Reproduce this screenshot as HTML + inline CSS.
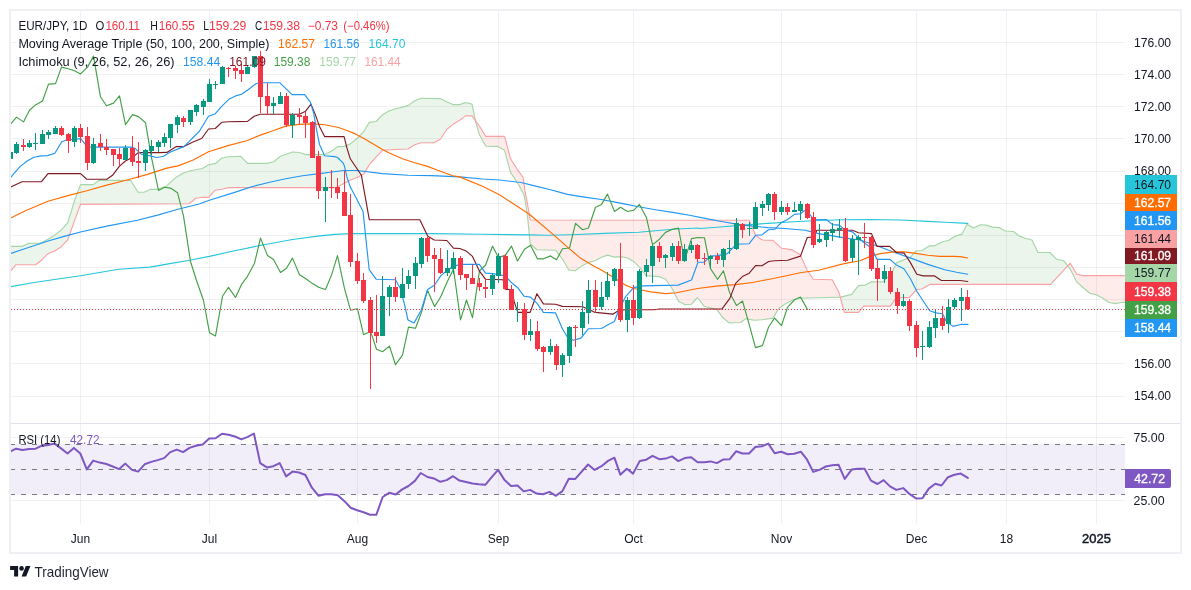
<!DOCTYPE html>
<html><head><meta charset="utf-8"><title>EUR/JPY</title>
<style>html,body{margin:0;padding:0;background:#fff;width:1191px;height:590px;overflow:hidden}</style></head>
<body>
<svg width="1191" height="590" viewBox="0 0 1191 590" style="position:absolute;left:0;top:0;will-change:transform;font-family:'Liberation Sans',sans-serif">
<rect width="1191" height="590" fill="#fff"/>
<rect x="10" y="10" width="1171" height="543" fill="none" stroke="#eff0f4" stroke-width="2"/>
<defs><clipPath id="cp"><rect x="11" y="11" width="1114" height="412"/></clipPath><clipPath id="cr"><rect x="11" y="424" width="1114" height="100"/></clipPath></defs>
<path d="M80.5 11V523.5 M209.5 11V523.5 M357.5 11V523.5 M498.5 11V523.5 M633.5 11V523.5 M781.5 11V523.5 M916.5 11V523.5 M1006.5 11V523.5 M1096.5 11V523.5" stroke="rgba(42,46,57,0.065)" stroke-width="1" fill="none" shape-rendering="crispEdges"/>
<path d="M11 396.5H1125 M11 363.5H1125 M11 331.5H1125 M11 299.5H1125 M11 267.5H1125 M11 235.5H1125 M11 203.5H1125 M11 171.5H1125 M11 138.5H1125 M11 106.5H1125 M11 74.5H1125 M11 42.5H1125 M11 437.5H1125 M11 500.5H1125" stroke="rgba(42,46,57,0.065)" stroke-width="1" fill="none" shape-rendering="crispEdges"/>
<path d="M11 423.5H1180" stroke="#e0e3eb" stroke-width="1" shape-rendering="crispEdges"/>
<g clip-path="url(#cp)">
<path d="M10.5 246.4 L11 246.4 L11.5 246.4 L12 246.4 L12.5 246.4 L13 246.4 L13.5 246.4 L14 246.4 L14.5 246.4 L15 246.4 L15.5 246.4 L16 246.4 L16.5 246.4 L17 246.4 L17.5 246.4 L18 246.4 L18.5 246.4 L19 246.4 L19.5 246.4 L20 246.4 L20.5 246.4 L21 246.4 L21.5 246.4 L22 246.4 L22.5 246.2 L23 246 L23.5 245.8 L24 245.6 L24.5 245.3 L25 245.1 L25.5 244.9 L26 244.7 L26.5 244.4 L27 244.2 L27.5 244 L28 243.8 L28.5 243.5 L29 243.4 L29.5 243.4 L30 243.4 L30.5 243.3 L31 243.3 L31.5 243.3 L32 243.3 L32.5 243.3 L33 243.3 L33.5 243.3 L34 243.2 L34.5 243.2 L35 243.2 L35.5 243.2 L36 243.2 L36.5 243.2 L37 243.2 L37.5 243.1 L38 243.1 L38.5 243.1 L39 243.1 L39.5 243.1 L40 243.1 L40.5 243.1 L41 242.9 L41.5 242.6 L42 242.4 L42.5 242.1 L43 241.9 L43.5 241.6 L44 241.4 L44.5 241.1 L45 240.8 L45.5 240.6 L46 240.3 L46.5 240.1 L47 239.8 L47.5 239.6 L48 239.3 L48.5 239 L49 238.7 L49.5 238.4 L50 238.1 L50.5 237.7 L51 237.4 L51.5 237.1 L52 236.8 L52.5 236.5 L53 236.2 L53.5 235.9 L54 235.6 L54.5 235.2 L55 234.9 L55.5 234.5 L56 234.1 L56.5 233.7 L57 233.4 L57.5 233 L58 232.6 L58.5 232.2 L59 231.9 L59.5 231.5 L60 231.1 L60.5 230.7 L61 230.4 L61.5 229.8 L62 229.2 L62.5 228.7 L63 228.1 L63.5 227.5 L64 227 L64.5 226.4 L65 225.9 L65.5 225.3 L66 224.7 L66.5 224.2 L67 223.6 L67.5 223 L68 222 L68.5 220.4 L69 218.7 L69.5 217.1 L70 215.4 L70.5 213.8 L71 212.1 L71.5 210.5 L72 208.9 L72.5 207.2 L73 205.6 L73.5 203.9 L74 202.3 L74.5 200.9 L75 199.5 L75.5 198.2 L76 196.8 L76.5 195.4 L77 194.1 L77.5 192.7 L78 191.4 L78.5 190 L79 188.7 L79.5 187.3 L80 186 L80.5 184.6 L81 184.6 L81.5 184.6 L82 184.6 L82.5 184.6 L83 184.6 L83.5 184.6 L84 184.6 L84.5 184.6 L85 184.6 L85.5 184.6 L86 184.6 L86.5 184.6 L87 184.6 L87.5 184.6 L88 184.6 L88.5 184.6 L89 184.6 L89.5 184.6 L90 184.6 L90.5 184.6 L91 184.6 L91.5 184.6 L92 184.6 L92.5 184.6 L93 184.6 L93.5 184.4 L94 184 L94.5 183.7 L95 183.3 L95.5 182.9 L96 182.6 L96.5 182.2 L97 181.9 L97.5 181.5 L98 181.2 L98.5 180.8 L99 180.4 L99.5 180.3 L100 180.3 L100.5 180.3 L101 180.3 L101.5 180.3 L102 180.3 L102.5 180.3 L103 180.3 L103.5 180.3 L104 180.3 L104.5 180.3 L105 180.3 L105.5 180.3 L106 180.3 L106.5 180.3 L107 180.3 L107.5 180.3 L108 180.3 L108.5 180.3 L109 180.3 L109.5 180.3 L110 180.3 L110.5 180.3 L111 180.3 L111.5 180.3 L112 180.3 L112.5 180.3 L113 180.3 L113.5 180.3 L114 180.3 L114.5 180.3 L115 180.3 L115.5 180.3 L116 180.3 L116.5 180.3 L117 180.3 L117.5 180.3 L118 180.3 L118.5 180.3 L119 180.3 L119.5 180.3 L120 180.3 L120.5 180.3 L121 180.3 L121.5 180.3 L122 180.3 L122.5 180.3 L123 180.3 L123.5 180.3 L124 180.3 L124.5 180.3 L125 180.3 L125.5 180.3 L126 180.3 L126.5 180.3 L127 180.3 L127.5 180.3 L128 180.3 L128.5 180.3 L129 180.3 L129.5 180.3 L130 180.3 L130.5 180.3 L131 181.1 L131.5 181.9 L132 182.7 L132.5 183.4 L133 184.2 L133.5 185 L134 185.8 L134.5 186.5 L135 187.3 L135.5 188.1 L136 188.9 L136.5 189.7 L137 190.4 L137.5 191.2 L138 192 L138.5 192.2 L139 192.2 L139.5 192.2 L140 192.2 L140.5 192.2 L141 192.2 L141.5 192.2 L142 192.2 L142.5 192.2 L143 192.2 L143.5 192.2 L144 192.2 L144.5 192 L145 191.8 L145.5 191.6 L146 191.4 L146.5 191.2 L147 191 L147.5 190.7 L148 190.5 L148.5 190.3 L149 190.1 L149.5 189.9 L150 189.7 L150.5 189.5 L151 189.3 L151.5 189.3 L152 189.3 L152.5 189.3 L153 189.3 L153.5 189.3 L154 189.3 L154.5 189.3 L155 189.3 L155.5 189.3 L156 189.3 L156.5 189.3 L157 189.3 L157.5 189.3 L158 189.2 L158.5 189 L159 188.8 L159.5 188.6 L160 188.5 L160.5 188.3 L161 188.1 L161.5 187.9 L162 187.7 L162.5 187.6 L163 187.4 L163.5 187.2 L164 187 L164.5 186.8 L165 186.7 L165.5 186.5 L166 186.3 L166.5 185.9 L167 185.5 L167.5 185 L168 184.5 L168.5 184.1 L169 183.6 L169.5 183.2 L170 182.7 L170.5 182.3 L171 181.8 L171.5 181.4 L172 180.9 L172.5 180.5 L173 180 L173.5 179.5 L174 179.1 L174.5 178.6 L175 178.2 L175.5 177.8 L176 177.5 L176.5 177.2 L177 176.9 L177.5 176.6 L178 176.3 L178.5 176 L179 175.7 L179.5 175.4 L180 175.1 L180.5 174.8 L181 174.5 L181.5 174.2 L182 173.9 L182.5 173.6 L183 173.3 L183.5 173 L184 172.7 L184.5 172.5 L185 172.4 L185.5 172.2 L186 172.1 L186.5 171.9 L187 171.8 L187.5 171.6 L188 171.5 L188.5 171.3 L189 171.2 L189.5 171 L190 170.9 L190.5 170.7 L191 170.6 L191.5 170.4 L192 170.3 L192.5 170.1 L193 170.1 L193.5 170 L194 169.9 L194.5 169.8 L195 169.7 L195.5 169.6 L196 169.6 L196.5 169.5 L197 169.4 L197.5 169.3 L198 169.2 L198.5 169.1 L199 169.1 L199.5 169 L200 168.9 L200.5 168.8 L201 168.7 L201.5 168.6 L202 168.6 L202.5 168.5 L203 168.2 L203.5 167.9 L204 167.6 L204.5 167.2 L205 166.9 L205.5 166.6 L206 166.3 L206.5 166 L207 165.7 L207.5 165.4 L208 165 L208.5 164.7 L209 164.7 L209.5 164.6 L210 164.5 L210.5 164.4 L211 164.3 L211.5 164.2 L212 164.1 L212.5 164 L213 164 L213.5 163.9 L214 163.8 L214.5 163.7 L215 163.6 L215.5 163.4 L216 162.9 L216.5 162.5 L217 162.1 L217.5 161.7 L218 161.3 L218.5 160.9 L219 160.5 L219.5 160.1 L220 159.6 L220.5 159.2 L221 158.8 L221.5 158.4 L222 158 L222.5 157.9 L223 157.8 L223.5 157.7 L224 157.6 L224.5 157.5 L225 157.4 L225.5 157.3 L226 157.2 L226.5 157.1 L227 157 L227.5 156.9 L228 156.8 L228.5 156.8 L229 156.7 L229.5 156.7 L230 156.7 L230.5 156.7 L231 156.7 L231.5 156.6 L232 156.6 L232.5 156.6 L233 156.6 L233.5 156.6 L234 156.5 L234.5 156.5 L235 156.5 L235.5 156.5 L236 156.5 L236.5 156.4 L237 156.4 L237.5 156.4 L238 156.4 L238.5 156.4 L239 156.3 L239.5 156.3 L240 156.3 L240.5 156.3 L241 156.6 L241.5 157.1 L242 157.7 L242.5 158.2 L243 158.7 L243.5 159.2 L244 159.8 L244.5 160.3 L245 160.8 L245.5 161.3 L246 161.9 L246.5 162.4 L247 162.9 L247.5 163.4 L248 163.4 L248.5 163.4 L249 163.4 L249.5 163.4 L250 163.4 L250.5 163.4 L251 163.4 L251.5 163.4 L252 163.4 L252.5 163.4 L253 163.4 L253.5 163.4 L254 163.4 L254.5 163.4 L255 163.4 L255.5 163.4 L256 163.4 L256.5 163.4 L257 163.4 L257.5 163.4 L258 163.4 L258.5 163.4 L259 163.4 L259.5 163.4 L260 163.4 L260.5 163.4 L261 163.4 L261.5 163.4 L262 163.4 L262.5 163.4 L263 163.4 L263.5 163.4 L264 163.4 L264.5 163.4 L265 163.4 L265.5 163.4 L266 163.4 L266.5 163.4 L267 163.4 L267.5 163.3 L268 163.1 L268.5 163 L269 162.9 L269.5 162.8 L270 162.6 L270.5 162.5 L271 162.4 L271.5 162.3 L272 162.1 L272.5 162 L273 161.9 L273.5 161.8 L274 161.5 L274.5 161.1 L275 160.7 L275.5 160.3 L276 159.9 L276.5 159.5 L277 159.1 L277.5 158.7 L278 158.3 L278.5 157.9 L279 157.5 L279.5 157.1 L280 156.7 L280.5 156.3 L281 156.1 L281.5 155.9 L282 155.7 L282.5 155.6 L283 155.4 L283.5 155.2 L284 155 L284.5 154.8 L285 154.7 L285.5 154.5 L286 154.3 L286.5 154.1 L287 154 L287.5 153.8 L288 153.6 L288.5 153.4 L289 153.2 L289.5 153.1 L290 152.9 L290.5 152.7 L291 152.5 L291.5 152.3 L292 152.2 L292.5 152 L293 152.1 L293.5 152.1 L294 152.2 L294.5 152.2 L295 152.2 L295.5 152.3 L296 152.3 L296.5 152.3 L297 152.4 L297.5 152.4 L298 152.5 L298.5 152.5 L299 152.5 L299.5 152.6 L300 152.8 L300.5 152.9 L301 153.1 L301.5 153.2 L302 153.4 L302.5 153.5 L303 153.7 L303.5 153.8 L304 154 L304.5 154.1 L305 154.3 L305.5 154.4 L306 154.6 L306.5 154.6 L307 154.6 L307.5 154.6 L308 154.6 L308.5 154.6 L309 154.6 L309.5 154.6 L310 154.6 L310.5 154.6 L311 154.6 L311.5 154.6 L312 154.6 L312.5 154.6 L313 154.6 L313.5 154.6 L314 154.6 L314.5 154.6 L315 154.6 L315.5 154.6 L316 154.6 L316.5 154.6 L317 154.6 L317.5 154.6 L318 154.6 L318.5 154.6 L319 154.6 L319.5 154.6 L320 154.6 L320.5 154.6 L321 154.6 L321.5 154.6 L322 154.6 L322.5 154.6 L323 154.6 L323.5 154.6 L324 154.6 L324.5 154.6 L325 154.4 L325.5 154.1 L326 153.9 L326.5 153.6 L327 153.4 L327.5 153.1 L328 152.9 L328.5 152.6 L329 152.4 L329.5 152.1 L330 151.9 L330.5 151.6 L331 151.4 L331.5 151.1 L332 150.7 L332.5 150.4 L333 150 L333.5 149.6 L334 149.3 L334.5 148.9 L335 148.5 L335.5 148.2 L336 147.8 L336.5 147.4 L337 147.1 L337.5 146.7 L338 146.6 L338.5 146.6 L339 146.6 L339.5 146.6 L340 146.5 L340.5 146.5 L341 146.5 L341.5 146.5 L342 146.5 L342.5 146.5 L343 146.5 L343.5 146.5 L344 146.4 L344.5 146.3 L345 146.1 L345.5 145.9 L346 145.7 L346.5 145.5 L347 145.3 L347.5 145.1 L348 144.9 L348.5 144.7 L349 144.5 L349.5 144.3 L350 144.1 L350.5 143.7 L351 143.3 L351.5 142.9 L352 142.5 L352.5 142.1 L353 141.7 L353.5 141.3 L354 140.9 L354.5 140.5 L355 140.1 L355.5 139.7 L356 139.4 L356.5 139 L357 138.6 L357.5 138.1 L358 137.5 L358.5 137 L359 136.5 L359.5 136 L360 135.4 L360.5 134.9 L361 134.4 L361.5 133.9 L362 133.3 L362.5 132.8 L363 132.3 L363.5 131.8 L364 131 L364.5 130.2 L365 129.4 L365.5 128.6 L366 127.7 L366.5 126.9 L367 126.1 L367.5 125.3 L368 124.5 L368.5 123.7 L369 122.9 L369.5 122.4 L370 122.3 L370.5 122.2 L371 122.2 L371.5 122.1 L372 122 L372.5 122 L373 121.9 L373.5 121.9 L374 121.8 L374.5 121.7 L375 121.7 L375.5 121.6 L376 121.5 L376.5 121.1 L377 120.6 L377.5 120.1 L378 119.5 L378.5 119 L379 118.5 L379.5 117.9 L380 117.4 L380.5 116.9 L381 116.4 L381.5 115.8 L382 115.3 L382.5 114.8 L383 114.5 L383.5 114.2 L384 113.9 L384.5 113.6 L385 113.3 L385.5 113 L386 112.8 L386.5 112.5 L387 112.2 L387.5 111.9 L388 111.6 L388.5 111.3 L389 111 L389.5 110.8 L390 110.6 L390.5 110.5 L391 110.3 L391.5 110.2 L392 110 L392.5 109.8 L393 109.7 L393.5 109.5 L394 109.4 L394.5 109.2 L395 109.1 L395.5 108.9 L396 108.8 L396.5 108.6 L397 108.5 L397.5 108.4 L398 108.3 L398.5 108.1 L399 108 L399.5 107.9 L400 107.8 L400.5 107.6 L401 107.5 L401.5 107.4 L402 107.3 L402.5 107.1 L403 107 L403.5 106.8 L404 106.7 L404.5 106.6 L405 106.4 L405.5 106.3 L406 106.1 L406.5 106 L407 105.8 L407.5 105.7 L408 105.6 L408.5 105.4 L409 105 L409.5 104.7 L410 104.3 L410.5 103.9 L411 103.6 L411.5 103.2 L412 102.9 L412.5 102.5 L413 102.1 L413.5 101.8 L414 101.4 L414.5 101 L415 100.7 L415.5 100.5 L416 100.4 L416.5 100.2 L417 100 L417.5 99.8 L418 99.6 L418.5 99.4 L419 99.2 L419.5 99 L420 98.8 L420.5 98.6 L421 98.4 L421.5 98.3 L422 98.3 L422.5 98.3 L423 98.3 L423.5 98.3 L424 98.4 L424.5 98.4 L425 98.4 L425.5 98.4 L426 98.4 L426.5 98.4 L427 98.4 L427.5 98.4 L428 98.4 L428.5 98.4 L429 98.4 L429.5 98.5 L430 98.5 L430.5 98.5 L431 98.5 L431.5 98.5 L432 98.5 L432.5 98.5 L433 98.5 L433.5 98.5 L434 98.5 L434.5 98.5 L435 98.6 L435.5 98.6 L436 98.6 L436.5 98.6 L437 98.6 L437.5 98.6 L438 98.6 L438.5 98.6 L439 98.6 L439.5 98.6 L440 98.6 L440.5 98.8 L441 99 L441.5 99.3 L442 99.5 L442.5 99.7 L443 100 L443.5 100.2 L444 100.5 L444.5 100.7 L445 100.9 L445.5 101.2 L446 101.4 L446.5 101.6 L447 101.9 L447.5 102.1 L448 102.3 L448.5 102.6 L449 102.8 L449.5 103 L450 103.3 L450.5 103.5 L451 103.7 L451.5 103.9 L452 104.2 L452.5 104.4 L453 104.6 L453.5 104.6 L454 104.6 L454.5 104.6 L455 104.6 L455.5 104.6 L456 104.6 L456.5 104.6 L457 104.6 L457.5 104.6 L458 104.6 L458.5 104.6 L459 104.6 L459.5 104.6 L460 104.5 L460.5 104.3 L461 104.1 L461.5 103.9 L462 103.8 L462.5 103.6 L463 103.4 L463.5 103.3 L464 103.1 L464.5 102.9 L465 102.7 L465.5 102.6 L466 102.6 L466.5 102.8 L467 102.9 L467.5 103 L468 103.1 L468.5 103.2 L469 103.3 L469.5 103.5 L470 103.6 L470.5 103.7 L471 103.8 L471.5 103.9 L472 104.1 L472.5 106.4 L473 108.8 L473.5 111.3 L474 113.7 L474.5 116.2 L475 118.6 L475.5 121.1 L476 123.2 L476 121.4 L475.5 120.7 L475 120 L474.5 119.3 L474 118.6 L473.5 118 L473 117.3 L472.5 116.6 L472 115.9 L471.5 115.9 L471 115.9 L470.5 115.9 L470 115.9 L469.5 115.9 L469 115.9 L468.5 115.9 L468 115.9 L467.5 115.9 L467 115.9 L466.5 115.9 L466 115.9 L465.5 116 L465 116.4 L464.5 116.7 L464 117.1 L463.5 117.4 L463 117.8 L462.5 118.1 L462 118.5 L461.5 118.9 L461 119.2 L460.5 119.6 L460 119.9 L459.5 120.3 L459 120.6 L458.5 120.9 L458 121.2 L457.5 121.5 L457 121.8 L456.5 122.1 L456 122.4 L455.5 122.8 L455 123.1 L454.5 123.4 L454 123.7 L453.5 124 L453 124.4 L452.5 124.8 L452 125.2 L451.5 125.6 L451 126 L450.5 126.3 L450 126.7 L449.5 127.1 L449 127.5 L448.5 127.9 L448 128.3 L447.5 128.7 L447 129.1 L446.5 129.8 L446 130.6 L445.5 131.4 L445 132.1 L444.5 132.9 L444 133.7 L443.5 134.4 L443 135.2 L442.5 135.9 L442 136.7 L441.5 137.5 L441 138.2 L440.5 139 L440 139.3 L439.5 139.6 L439 139.9 L438.5 140.2 L438 140.5 L437.5 140.8 L437 141.1 L436.5 141.4 L436 141.7 L435.5 142 L435 142.3 L434.5 142.6 L434 142.7 L433.5 142.7 L433 142.7 L432.5 142.7 L432 142.7 L431.5 142.7 L431 142.7 L430.5 142.7 L430 142.7 L429.5 142.7 L429 142.7 L428.5 142.7 L428 142.7 L427.5 142.7 L427 142.7 L426.5 142.7 L426 142.7 L425.5 142.7 L425 142.7 L424.5 142.7 L424 142.7 L423.5 142.7 L423 142.7 L422.5 142.7 L422 142.7 L421.5 142.7 L421 142.8 L420.5 142.9 L420 143.1 L419.5 143.2 L419 143.4 L418.5 143.6 L418 143.7 L417.5 143.9 L417 144 L416.5 144.2 L416 144.3 L415.5 144.5 L415 144.7 L414.5 144.9 L414 145.2 L413.5 145.5 L413 145.8 L412.5 146.1 L412 146.5 L411.5 146.8 L411 147.1 L410.5 147.4 L410 147.7 L409.5 148 L409 148.3 L408.5 148.6 L408 149 L407.5 149 L407 149 L406.5 149 L406 149.1 L405.5 149.1 L405 149.1 L404.5 149.1 L404 149.1 L403.5 149.2 L403 149.2 L402.5 149.2 L402 149.2 L401.5 149.3 L401 149.3 L400.5 149.3 L400 149.3 L399.5 149.3 L399 149.4 L398.5 149.4 L398 149.4 L397.5 149.4 L397 149.4 L396.5 149.5 L396 149.5 L395.5 149.5 L395 149.5 L394.5 149.6 L394 149.6 L393.5 149.6 L393 149.7 L392.5 149.7 L392 149.7 L391.5 149.8 L391 149.8 L390.5 149.8 L390 149.9 L389.5 149.9 L389 149.9 L388.5 150 L388 150 L387.5 150 L387 150.1 L386.5 150.1 L386 150.1 L385.5 150.1 L385 150.2 L384.5 150.2 L384 150.2 L383.5 150.3 L383 150.3 L382.5 150.4 L382 150.9 L381.5 151.4 L381 152 L380.5 152.5 L380 153 L379.5 153.5 L379 154.1 L378.5 154.6 L378 155.1 L377.5 155.6 L377 156.2 L376.5 156.7 L376 157.2 L375.5 157.8 L375 158.4 L374.5 158.9 L374 159.5 L373.5 160 L373 160.6 L372.5 161.2 L372 161.7 L371.5 162.3 L371 162.9 L370.5 163.4 L370 164 L369.5 164.5 L369 165.3 L368.5 166.1 L368 166.9 L367.5 167.7 L367 168.5 L366.5 169.3 L366 170.1 L365.5 170.9 L365 171.7 L364.5 172.5 L364 173.4 L363.5 174.1 L363 174.4 L362.5 174.6 L362 174.9 L361.5 175.2 L361 175.4 L360.5 175.7 L360 175.9 L359.5 176.2 L359 176.5 L358.5 176.7 L358 177 L357.5 177.3 L357 177.5 L356.5 177.7 L356 177.9 L355.5 178.1 L355 178.3 L354.5 178.4 L354 178.6 L353.5 178.8 L353 179 L352.5 179.2 L352 179.4 L351.5 179.6 L351 179.8 L350.5 179.9 L350 180.2 L349.5 180.5 L349 180.7 L348.5 181 L348 181.3 L347.5 181.6 L347 181.8 L346.5 182.1 L346 182.4 L345.5 182.7 L345 182.9 L344.5 183.2 L344 183.5 L343.5 183.8 L343 184 L342.5 184.3 L342 184.6 L341.5 184.9 L341 185.1 L340.5 185.4 L340 185.7 L339.5 185.9 L339 186.2 L338.5 186.5 L338 186.8 L337.5 187 L337 187.3 L336.5 187.6 L336 187.6 L335.5 187.6 L335 187.6 L334.5 187.6 L334 187.6 L333.5 187.6 L333 187.6 L332.5 187.6 L332 187.6 L331.5 187.6 L331 187.6 L330.5 187.6 L330 187.6 L329.5 187.6 L329 187.6 L328.5 187.6 L328 187.6 L327.5 187.6 L327 187.6 L326.5 187.6 L326 187.6 L325.5 187.6 L325 187.6 L324.5 187.6 L324 187.6 L323.5 187.6 L323 187.6 L322.5 187.6 L322 187.6 L321.5 187.6 L321 187.6 L320.5 187.6 L320 187.6 L319.5 187.6 L319 187.6 L318.5 187.6 L318 187.6 L317.5 187.6 L317 187.6 L316.5 187.6 L316 187.6 L315.5 187.6 L315 187.6 L314.5 187.6 L314 187.6 L313.5 187.6 L313 187.6 L312.5 187.6 L312 187.6 L311.5 187.6 L311 187.6 L310.5 187.6 L310 187.6 L309.5 187.6 L309 187.6 L308.5 187.6 L308 187.6 L307.5 187.6 L307 187.6 L306.5 187.6 L306 187.6 L305.5 187.6 L305 187.6 L304.5 187.6 L304 187.6 L303.5 187.6 L303 187.6 L302.5 187.6 L302 187.6 L301.5 187.6 L301 187.6 L300.5 187.6 L300 187.6 L299.5 187.6 L299 187.6 L298.5 187.6 L298 187.6 L297.5 187.6 L297 187.6 L296.5 187.6 L296 187.6 L295.5 187.6 L295 187.6 L294.5 187.6 L294 187.6 L293.5 187.6 L293 187.6 L292.5 187.6 L292 187.6 L291.5 187.6 L291 187.6 L290.5 187.6 L290 187.6 L289.5 187.6 L289 187.6 L288.5 187.6 L288 187.6 L287.5 187.6 L287 187.6 L286.5 187.6 L286 187.6 L285.5 187.6 L285 187.6 L284.5 187.6 L284 187.6 L283.5 187.6 L283 187.6 L282.5 187.6 L282 187.6 L281.5 187.6 L281 187.6 L280.5 187.6 L280 187.6 L279.5 187.6 L279 187.6 L278.5 187.6 L278 187.6 L277.5 187.6 L277 187.6 L276.5 187.6 L276 187.6 L275.5 187.6 L275 187.6 L274.5 187.6 L274 187.6 L273.5 187.6 L273 187.6 L272.5 187.6 L272 187.6 L271.5 187.6 L271 187.6 L270.5 187.6 L270 187.6 L269.5 187.6 L269 187.6 L268.5 187.6 L268 187.6 L267.5 187.6 L267 187.6 L266.5 187.6 L266 187.6 L265.5 187.6 L265 187.6 L264.5 187.6 L264 187.6 L263.5 187.6 L263 187.6 L262.5 187.6 L262 187.6 L261.5 187.6 L261 187.6 L260.5 187.6 L260 187.6 L259.5 187.6 L259 187.6 L258.5 187.6 L258 187.6 L257.5 187.6 L257 187.6 L256.5 187.6 L256 187.6 L255.5 187.6 L255 187.6 L254.5 187.6 L254 187.6 L253.5 187.6 L253 187.6 L252.5 187.6 L252 187.6 L251.5 187.6 L251 187.6 L250.5 187.6 L250 187.6 L249.5 187.6 L249 187.6 L248.5 187.6 L248 187.6 L247.5 187.6 L247 187.6 L246.5 187.6 L246 187.6 L245.5 187.6 L245 187.6 L244.5 187.6 L244 187.6 L243.5 187.6 L243 187.6 L242.5 187.6 L242 187.6 L241.5 187.6 L241 187.6 L240.5 187.6 L240 187.6 L239.5 187.6 L239 187.6 L238.5 187.6 L238 187.6 L237.5 187.6 L237 187.6 L236.5 187.6 L236 187.6 L235.5 187.6 L235 187.6 L234.5 187.6 L234 187.6 L233.5 187.6 L233 187.6 L232.5 187.6 L232 187.6 L231.5 187.6 L231 187.6 L230.5 187.6 L230 187.6 L229.5 187.6 L229 187.6 L228.5 187.6 L228 187.7 L227.5 187.8 L227 188 L226.5 188.1 L226 188.3 L225.5 188.4 L225 188.5 L224.5 188.7 L224 188.8 L223.5 188.9 L223 189.1 L222.5 189.2 L222 189.3 L221.5 189.4 L221 189.5 L220.5 189.5 L220 189.6 L219.5 189.6 L219 189.7 L218.5 189.8 L218 189.8 L217.5 189.9 L217 190 L216.5 190 L216 190.1 L215.5 190.1 L215 190.4 L214.5 191 L214 191.5 L213.5 192 L213 192.5 L212.5 193.1 L212 193.6 L211.5 194.1 L211 194.6 L210.5 195.2 L210 195.7 L209.5 196.2 L209 196.7 L208.5 197.3 L208 197.3 L207.5 197.3 L207 197.3 L206.5 197.3 L206 197.3 L205.5 197.3 L205 197.3 L204.5 197.3 L204 197.3 L203.5 197.3 L203 197.3 L202.5 197.3 L202 197.4 L201.5 197.4 L201 197.5 L200.5 197.6 L200 197.7 L199.5 197.7 L199 197.8 L198.5 197.9 L198 198 L197.5 198 L197 198.1 L196.5 198.2 L196 198.3 L195.5 198.5 L195 198.9 L194.5 199.3 L194 199.7 L193.5 200.1 L193 200.5 L192.5 200.9 L192 201.3 L191.5 201.7 L191 202.1 L190.5 202.5 L190 202.9 L189.5 203.3 L189 203.7 L188.5 203.7 L188 203.7 L187.5 203.7 L187 203.7 L186.5 203.7 L186 203.7 L185.5 203.8 L185 203.8 L184.5 203.8 L184 203.8 L183.5 203.8 L183 203.8 L182.5 203.8 L182 203.8 L181.5 203.8 L181 203.8 L180.5 203.8 L180 203.8 L179.5 203.8 L179 203.8 L178.5 203.8 L178 203.8 L177.5 203.8 L177 203.8 L176.5 203.8 L176 203.8 L175.5 203.8 L175 203.8 L174.5 203.8 L174 203.8 L173.5 203.8 L173 203.8 L172.5 203.8 L172 203.8 L171.5 203.8 L171 203.8 L170.5 203.8 L170 203.8 L169.5 203.9 L169 203.9 L168.5 203.9 L168 203.9 L167.5 203.9 L167 203.9 L166.5 203.9 L166 203.9 L165.5 203.9 L165 203.9 L164.5 203.9 L164 203.9 L163.5 203.9 L163 203.9 L162.5 203.9 L162 203.9 L161.5 203.9 L161 203.9 L160.5 203.9 L160 203.9 L159.5 203.9 L159 203.9 L158.5 203.9 L158 203.9 L157.5 203.9 L157 203.9 L156.5 203.9 L156 203.9 L155.5 203.9 L155 203.9 L154.5 203.9 L154 203.9 L153.5 204 L153 204 L152.5 204 L152 204 L151.5 204 L151 204 L150.5 204 L150 204 L149.5 204 L149 204 L148.5 204 L148 204 L147.5 204 L147 204 L146.5 204 L146 204 L145.5 204 L145 204 L144.5 204 L144 204 L143.5 204 L143 204 L142.5 204 L142 204 L141.5 204 L141 204 L140.5 204 L140 204 L139.5 204 L139 204 L138.5 204 L138 204 L137.5 204.1 L137 204.1 L136.5 204.1 L136 204.1 L135.5 204.1 L135 204.1 L134.5 204.1 L134 204.1 L133.5 204.1 L133 204.1 L132.5 204.1 L132 204.1 L131.5 204.1 L131 204.1 L130.5 204.1 L130 204.1 L129.5 204.1 L129 204.1 L128.5 204.1 L128 204.1 L127.5 204.1 L127 204.1 L126.5 204.1 L126 204.1 L125.5 204.1 L125 204.1 L124.5 204.1 L124 204.1 L123.5 204.1 L123 204.1 L122.5 204.1 L122 204.1 L121.5 204.2 L121 204.2 L120.5 204.2 L120 204.2 L119.5 204.2 L119 204.2 L118.5 204.2 L118 204.2 L117.5 204.2 L117 204.2 L116.5 204.2 L116 204.2 L115.5 204.2 L115 204.2 L114.5 204.2 L114 204.2 L113.5 204.2 L113 204.2 L112.5 204.2 L112 204.2 L111.5 204.2 L111 204.2 L110.5 204.2 L110 204.2 L109.5 204.2 L109 204.2 L108.5 204.2 L108 204.2 L107.5 204.2 L107 204.2 L106.5 204.2 L106 204.2 L105.5 204.3 L105 204.3 L104.5 204.3 L104 204.3 L103.5 204.3 L103 204.3 L102.5 204.3 L102 204.3 L101.5 204.3 L101 204.3 L100.5 204.3 L100 204.3 L99.5 204.3 L99 204.3 L98.5 204.3 L98 204.3 L97.5 204.3 L97 204.3 L96.5 204.3 L96 204.3 L95.5 204.3 L95 204.3 L94.5 204.3 L94 204.3 L93.5 204.3 L93 204.3 L92.5 204.3 L92 204.3 L91.5 204.3 L91 204.3 L90.5 204.3 L90 204.3 L89.5 204.4 L89 204.4 L88.5 204.4 L88 204.4 L87.5 204.4 L87 204.4 L86.5 204.4 L86 204.4 L85.5 204.4 L85 204.4 L84.5 204.4 L84 204.4 L83.5 204.4 L83 204.4 L82.5 204.4 L82 204.4 L81.5 204.4 L81 204.4 L80.5 204.4 L80 205.8 L79.5 207.1 L79 208.5 L78.5 209.9 L78 211.2 L77.5 212.6 L77 213.9 L76.5 215.3 L76 216.6 L75.5 218 L75 219.3 L74.5 220.7 L74 222.1 L73.5 223.5 L73 224.9 L72.5 226.4 L72 227.8 L71.5 229.2 L71 230.7 L70.5 232.1 L70 233.5 L69.5 235 L69 236.4 L68.5 237.8 L68 239.2 L67.5 240.1 L67 240.7 L66.5 241.2 L66 241.7 L65.5 242.2 L65 242.8 L64.5 243.3 L64 243.8 L63.5 244.3 L63 244.9 L62.5 245.4 L62 245.9 L61.5 246.4 L61 247 L60.5 247.3 L60 247.6 L59.5 247.9 L59 248.2 L58.5 248.5 L58 248.8 L57.5 249.1 L57 249.5 L56.5 249.8 L56 250.1 L55.5 250.4 L55 250.7 L54.5 251 L54 251.3 L53.5 251.5 L53 251.7 L52.5 251.9 L52 252.1 L51.5 252.3 L51 252.5 L50.5 252.7 L50 252.9 L49.5 253.1 L49 253.3 L48.5 253.5 L48 253.7 L47.5 254.2 L47 254.7 L46.5 255.2 L46 255.7 L45.5 256.2 L45 256.7 L44.5 257.2 L44 257.7 L43.5 258.2 L43 258.7 L42.5 259.2 L42 259.7 L41.5 260.2 L41 260.6 L40.5 261 L40 261.3 L39.5 261.7 L39 262.1 L38.5 262.5 L38 262.9 L37.5 263.3 L37 263.7 L36.5 264 L36 264.4 L35.5 264.7 L35 264.7 L34.5 264.7 L34 264.7 L33.5 264.7 L33 264.7 L32.5 264.7 L32 264.7 L31.5 264.7 L31 264.7 L30.5 264.7 L30 264.7 L29.5 264.7 L29 264.7 L28.5 264.7 L28 264.7 L27.5 264.7 L27 264.7 L26.5 264.7 L26 264.7 L25.5 264.7 L25 264.7 L24.5 264.7 L24 264.7 L23.5 264.7 L23 264.7 L22.5 264.7 L22 264.7 L21.5 264.7 L21 264.7 L20.5 264.7 L20 264.7 L19.5 264.7 L19 264.7 L18.5 264.7 L18 264.7 L17.5 264.7 L17 264.7 L16.5 264.7 L16 264.9 L15.5 265.4 L15 266 L14.5 266.6 L14 267.2 L13.5 267.7 L13 268.3 L12.5 268.9 L12 269.5 L11.5 270 L11 270.6 L10.5 271.2Z" fill="rgba(67,160,71,0.1)" stroke="none"/>
<path d="M475.5 121.1 L476 123.2 L476.5 125 L477 126.7 L477.5 128.5 L478 130.2 L478.5 132 L479 133.7 L479.5 134.9 L480 135.8 L480.5 136.7 L481 137.6 L481.5 138.6 L482 139.5 L482.5 140.4 L483 141.3 L483.5 142.2 L484 143.2 L484.5 144.1 L485 145 L485.5 145.9 L486 146.1 L486.5 146.1 L487 146.1 L487.5 146.2 L488 146.2 L488.5 146.2 L489 146.2 L489.5 146.2 L490 146.2 L490.5 146.2 L491 146.3 L491.5 146.3 L492 146.3 L492.5 146.3 L493 146.3 L493.5 146.3 L494 146.3 L494.5 146.3 L495 146.4 L495.5 146.4 L496 146.4 L496.5 146.4 L497 146.4 L497.5 146.4 L498 146.6 L498.5 146.8 L499 147.1 L499.5 147.4 L500 147.7 L500.5 148 L501 148.3 L501.5 148.6 L502 148.9 L502.5 149.1 L503 149.4 L503.5 149.7 L504 150 L504.5 150.3 L505 151.9 L505.5 153.8 L506 155.6 L506.5 157.5 L507 159.3 L507.5 161.2 L508 163.1 L508.5 164.9 L509 166.8 L509.5 168.6 L510 170.5 L510.5 172.3 L511 173.1 L511.5 173.8 L512 174.6 L512.5 175.3 L513 176.1 L513.5 176.8 L514 177.5 L514.5 178.3 L515 179 L515.5 179.7 L516 180.5 L516.5 181.2 L517 182 L517.5 182.7 L518 183.6 L518.5 184.5 L519 185.4 L519.5 186.3 L520 187.3 L520.5 188.2 L521 189.1 L521.5 190 L522 190.9 L522.5 191.9 L523 192.8 L523.5 193.7 L524 194.6 L524.5 197.4 L525 200.6 L525.5 203.7 L526 206.8 L526.5 209.9 L527 213.1 L527.5 216.4 L528 221.5 L528.5 226.6 L529 231.7 L529.5 236.9 L530 242 L530.5 244 L531 244.5 L531.5 244.9 L532 245.3 L532.5 245.8 L533 246.2 L533.5 246.6 L534 247.1 L534.5 247.5 L535 248 L535.5 248.4 L536 248.8 L536.5 249.3 L537 249.7 L537.5 249.7 L538 249.7 L538.5 249.7 L539 249.7 L539.5 249.7 L540 249.7 L540.5 249.8 L541 249.8 L541.5 249.8 L542 249.8 L542.5 249.8 L543 249.8 L543.5 249.8 L544 249.9 L544.5 249.9 L545 249.9 L545.5 249.9 L546 249.9 L546.5 249.9 L547 249.9 L547.5 249.9 L548 250 L548.5 250 L549 250 L549.5 250 L550 250 L550.5 250 L551 250 L551.5 250.1 L552 250.1 L552.5 250.1 L553 250.1 L553.5 250.1 L554 250.1 L554.5 250.1 L555 250.2 L555.5 250.2 L556 250.7 L556.5 251.3 L557 252 L557.5 252.6 L558 253.3 L558.5 253.9 L559 254.6 L559.5 255.2 L560 255.9 L560.5 256.5 L561 257.2 L561.5 257.8 L562 258.5 L562.5 259.2 L563 260.1 L563.5 260.9 L564 261.8 L564.5 262.6 L565 263.5 L565.5 264.3 L566 265.2 L566.5 266 L567 266.9 L567.5 267.8 L568 268.6 L568.5 269.5 L569 270 L569.5 270.1 L570 270.2 L570.5 270.2 L571 270.3 L571.5 270.4 L572 270.4 L572.5 270.5 L573 270.6 L573.5 270.6 L574 270.7 L574.5 270.8 L575 270.8 L575.5 270.6 L576 270.2 L576.5 269.8 L577 269.5 L577.5 269.1 L578 268.8 L578.5 268.4 L579 268.1 L579.5 267.7 L580 267.3 L580.5 267 L581 266.6 L581.5 266.3 L582 266 L582.5 265.7 L583 265.5 L583.5 265.2 L584 264.9 L584.5 264.6 L585 264.3 L585.5 264 L586 263.7 L586.5 263.4 L587 263.1 L587.5 262.8 L588 262.6 L588.5 262.3 L589 262.2 L589.5 262.1 L590 261.9 L590.5 261.8 L591 261.7 L591.5 261.6 L592 261.4 L592.5 261.3 L593 261.2 L593.5 261.1 L594 260.9 L594.5 260.8 L595 260.7 L595.5 260.5 L596 260.2 L596.5 259.9 L597 259.6 L597.5 259.4 L598 259.1 L598.5 258.8 L599 258.6 L599.5 258.3 L600 258 L600.5 257.8 L601 257.5 L601.5 257.2 L602 257.1 L602.5 256.9 L603 256.7 L603.5 256.5 L604 256.4 L604.5 256.2 L605 256 L605.5 255.8 L606 255.7 L606.5 255.5 L607 255.3 L607.5 255.1 L608 255.2 L608.5 255.3 L609 255.5 L609.5 255.6 L610 255.8 L610.5 255.9 L611 256.1 L611.5 256.2 L612 256.4 L612.5 256.5 L613 256.7 L613.5 256.8 L614 257 L614.5 257.1 L615 257.1 L615.5 257 L616 257 L616.5 256.9 L617 256.9 L617.5 256.9 L618 256.8 L618.5 256.8 L619 256.7 L619.5 256.7 L620 256.7 L620.5 256.6 L621 256.7 L621.5 256.8 L622 256.9 L622.5 257 L623 257.1 L623.5 257.2 L624 257.3 L624.5 257.4 L625 257.5 L625.5 257.6 L626 257.7 L626.5 257.8 L627 257.9 L627.5 258 L628 258.3 L628.5 258.5 L629 258.8 L629.5 259.1 L630 259.4 L630.5 259.7 L631 259.9 L631.5 260.2 L632 260.5 L632.5 260.8 L633 261 L633.5 261.3 L634 261.8 L634.5 262.3 L635 262.8 L635.5 263.3 L636 263.8 L636.5 264.3 L637 264.8 L637.5 265.3 L638 265.8 L638.5 266.3 L639 266.8 L639.5 267.3 L640 267.8 L640.5 268.5 L641 269.1 L641.5 269.7 L642 270.4 L642.5 271 L643 271.6 L643.5 272.3 L644 272.9 L644.5 273.5 L645 274.2 L645.5 274.8 L646 275.4 L646.5 275.8 L647 275.8 L647.5 275.8 L648 275.9 L648.5 275.9 L649 275.9 L649.5 276 L650 276 L650.5 276 L651 276.1 L651.5 276.1 L652 276.1 L652.5 276.2 L653 276.2 L653.5 276.2 L654 276.3 L654.5 276.3 L655 276.3 L655.5 276.4 L656 276.4 L656.5 276.4 L657 276.5 L657.5 276.5 L658 276.5 L658.5 276.6 L659 276.6 L659.5 276.7 L660 276.9 L660.5 277.1 L661 277.3 L661.5 277.5 L662 277.7 L662.5 277.9 L663 278.1 L663.5 278.3 L664 278.5 L664.5 278.7 L665 278.9 L665.5 279.1 L666 279.7 L666.5 280.5 L667 281.2 L667.5 281.9 L668 282.7 L668.5 283.4 L669 284.1 L669.5 284.9 L670 285.6 L670.5 286.3 L671 287.1 L671.5 287.8 L672 288.5 L672.5 289.3 L673 290.2 L673.5 291.2 L674 292.2 L674.5 293.2 L675 294.2 L675.5 295.2 L676 296.2 L676.5 297.2 L677 298.2 L677.5 299.2 L678 300.2 L678.5 301.2 L679 301.5 L679.5 301.7 L680 302 L680.5 302.3 L681 302.6 L681.5 302.8 L682 303.1 L682.5 303.4 L683 303.6 L683.5 303.9 L684 304.2 L684.5 304.4 L685 304.6 L685.5 304.5 L686 304.5 L686.5 304.5 L687 304.5 L687.5 304.4 L688 304.4 L688.5 304.4 L689 304.4 L689.5 304.3 L690 304.3 L690.5 304.3 L691 304.3 L691.5 304.2 L692 303.7 L692.5 303.1 L693 302.6 L693.5 302 L694 301.4 L694.5 300.8 L695 300.3 L695.5 299.7 L696 299.1 L696.5 298.6 L697 298 L697.5 297.5 L698 298.2 L698.5 298.8 L699 299.5 L699.5 300.1 L700 300.8 L700.5 301.4 L701 302.1 L701.5 302.7 L702 303.4 L702.5 304 L703 304.7 L703.5 305.3 L704 306 L704.5 306.3 L705 306.5 L705.5 306.6 L706 306.7 L706.5 306.9 L707 307 L707.5 307.1 L708 307.3 L708.5 307.4 L709 307.5 L709.5 307.7 L710 307.8 L710.5 307.9 L711 308.1 L711.5 308.2 L712 308.3 L712.5 308.5 L713 308.6 L713.5 308.7 L714 308.9 L714.5 309 L715 309.1 L715.5 309.3 L716 309.4 L716.5 309.5 L717 309.7 L717.5 310.4 L718 311.1 L718.5 311.8 L719 312.5 L719.5 313.2 L720 313.8 L720.5 314.5 L721 315.2 L721.5 315.9 L722 316.6 L722.5 317.3 L723 317.9 L723.5 318.3 L724 318.7 L724.5 319.1 L725 319.5 L725.5 319.9 L726 320.3 L726.5 320.7 L727 321.1 L727.5 321.5 L728 321.9 L728.5 322.4 L729 322.8 L729.5 322.9 L730 322.9 L730.5 322.8 L731 322.8 L731.5 322.8 L732 322.8 L732.5 322.8 L733 322.8 L733.5 322.8 L734 322.7 L734.5 322.7 L735 322.7 L735.5 322.7 L736 322.7 L736.5 322.7 L737 322.7 L737.5 322.6 L738 322.6 L738.5 322.6 L739 322.6 L739.5 322.6 L740 322.6 L740.5 322.5 L741 322.3 L741.5 321.9 L742 321.5 L742.5 321.1 L743 320.8 L743.5 320.4 L744 320 L744.5 319.6 L745 319.2 L745.5 318.8 L746 318.7 L746.5 318.8 L747 318.9 L747.5 319 L748 319.1 L748.5 319.2 L749 319.3 L749.5 319.4 L750 319.5 L750.5 319.6 L751 319.7 L751.5 319.8 L752 319.9 L752.5 320 L753 320.1 L753.5 320.2 L754 320.3 L754.5 320.3 L755 320.3 L755.5 320.3 L756 320.2 L756.5 320.2 L757 320.2 L757.5 320.1 L758 320.1 L758.5 320.1 L759 320 L759.5 320 L760 320 L760.5 319.9 L761 319.9 L761.5 319.9 L762 319.8 L762.5 319.7 L763 319.7 L763.5 319.6 L764 319.5 L764.5 319.4 L765 319.3 L765.5 319.3 L766 319.2 L766.5 319.1 L767 319 L767.5 319 L768 318.9 L768.5 318.8 L769 318.7 L769.5 318.7 L770 318.6 L770.5 318.5 L771 318.4 L771.5 318.3 L772 318.3 L772.5 318.2 L773 317.9 L773.5 317.1 L774 316.3 L774.5 315.5 L775 314.7 L775.5 313.9 L776 313.1 L776.5 312.2 L777 311.4 L777.5 310.6 L778 309.8 L778.5 309 L779 308.3 L779.5 308 L780 307.6 L780.5 307.3 L781 306.9 L781.5 306.6 L782 306.2 L782.5 305.8 L783 305.5 L783.5 305.1 L784 304.8 L784.5 304.4 L785 304.1 L785.5 303.8 L786 303.6 L786.5 303.3 L787 303 L787.5 302.7 L788 302.5 L788.5 302.2 L789 301.9 L789.5 301.7 L790 301.4 L790.5 301.1 L791 300.9 L791.5 300.6 L792 300.3 L792.5 300.1 L793 299.8 L793.5 299.6 L794 299.5 L794.5 299.4 L795 299.3 L795.5 299.2 L796 299.1 L796.5 299 L797 298.9 L797.5 298.8 L798 298.8 L798.5 298.7 L799 298.6 L799.5 298.5 L800 298.4 L800.5 298.3 L801 298.3 L801.5 298.3 L802 298.3 L802.5 298.2 L803 298.2 L803.5 298.2 L804 298.2 L804.5 298.2 L805 298.2 L805.5 298.2 L806 298.1 L806.5 298.1 L807 298.1 L807.5 298.1 L808 298.1 L808.5 298.1 L809 298.1 L809.5 298.1 L810 298 L810.5 298 L811 298 L811.5 298 L812 298 L812.5 298 L813 298 L813.5 297.9 L814 297.9 L814.5 297.9 L815 297.9 L815.5 297.9 L816 297.9 L816.5 297.9 L817 297.8 L817.5 297.8 L818 297.8 L818.5 297.8 L819 297.8 L819.5 297.8 L820 297.8 L820.5 297.7 L821 297.7 L821.5 297.7 L822 297.7 L822.5 297.7 L823 297.7 L823.5 297.6 L824 297.6 L824.5 297.6 L825 297.6 L825.5 297.6 L826 297.6 L826.5 297.6 L827 297.5 L827.5 297.5 L828 297.5 L828.5 297.5 L829 297.5 L829.5 297.5 L830 297.4 L830.5 297.4 L831 297.4 L831.5 297.4 L832 297.4 L832.5 297.4 L833 297.4 L833.5 297.3 L834 297.3 L834.5 297.3 L835 297.3 L835.5 297.3 L836 297.3 L836.5 297.2 L837 297.2 L837.5 297.2 L838 297.2 L838.5 297.2 L839 297.2 L839.5 297.2 L840 297.1 L840.5 297.1 L841 297 L841 299.8 L840.5 298 L840 296.1 L839.5 294.3 L839 292.4 L838.5 291.5 L838 290.5 L837.5 289.6 L837 288.7 L836.5 287.7 L836 286.8 L835.5 285.9 L835 284.9 L834.5 284 L834 283.1 L833.5 282.1 L833 281.2 L832.5 280.3 L832 279.7 L831.5 279.7 L831 279.7 L830.5 279.7 L830 279.6 L829.5 279.6 L829 279.6 L828.5 279.6 L828 279.6 L827.5 279.6 L827 279.6 L826.5 279.6 L826 279.5 L825.5 279.5 L825 279.5 L824.5 279.5 L824 279.5 L823.5 279.5 L823 279.5 L822.5 279.4 L822 279.4 L821.5 279.4 L821 279.4 L820.5 279.4 L820 279.4 L819.5 279.4 L819 279.4 L818.5 279.3 L818 279.3 L817.5 279.3 L817 279.3 L816.5 279.3 L816 279.3 L815.5 279.3 L815 279.2 L814.5 279.2 L814 279.2 L813.5 279.2 L813 278.9 L812.5 278.1 L812 277.4 L811.5 276.6 L811 275.9 L810.5 275.1 L810 274.4 L809.5 273.6 L809 272.8 L808.5 272.1 L808 271.3 L807.5 270.6 L807 269.8 L806.5 268.8 L806 267.7 L805.5 266.5 L805 265.4 L804.5 264.3 L804 263.1 L803.5 262 L803 260.8 L802.5 259.7 L802 258.6 L801.5 257.4 L801 256.3 L800.5 255.2 L800 254.5 L799.5 254.2 L799 253.9 L798.5 253.7 L798 253.4 L797.5 253.1 L797 252.8 L796.5 252.5 L796 252.2 L795.5 251.9 L795 251.6 L794.5 251.3 L794 251 L793.5 250.8 L793 250.5 L792.5 250.2 L792 249.9 L791.5 249.6 L791 249.5 L790.5 249.5 L790 249.4 L789.5 249.3 L789 249.3 L788.5 249.2 L788 249.1 L787.5 249 L787 249 L786.5 248.9 L786 248.8 L785.5 248.8 L785 248.7 L784.5 248.6 L784 248.6 L783.5 248.5 L783 248.4 L782.5 248.4 L782 248.3 L781.5 248.2 L781 247.8 L780.5 247.4 L780 246.9 L779.5 246.5 L779 246 L778.5 245.5 L778 245.1 L777.5 244.6 L777 244.2 L776.5 243.7 L776 243.2 L775.5 242.8 L775 242.3 L774.5 241.9 L774 241.4 L773.5 241 L773 240.5 L772.5 240.4 L772 240.4 L771.5 240.3 L771 240.3 L770.5 240.3 L770 240.2 L769.5 240.2 L769 240.2 L768.5 240.2 L768 240.1 L767.5 240.1 L767 240.1 L766.5 240.1 L766 240 L765.5 240 L765 240 L764.5 239.9 L764 239.9 L763.5 239.9 L763 239.9 L762.5 239.8 L762 239.8 L761.5 239.5 L761 239.2 L760.5 238.8 L760 238.5 L759.5 238.2 L759 237.8 L758.5 237.5 L758 237.1 L757.5 236.8 L757 236.5 L756.5 236.1 L756 235.8 L755.5 235.3 L755 234.1 L754.5 232.9 L754 231.7 L753.5 230.5 L753 229.3 L752.5 228.1 L752 226.9 L751.5 225.7 L751 224.5 L750.5 223.3 L750 222.1 L749.5 220.9 L749 220.2 L748.5 220.2 L748 220.2 L747.5 220.2 L747 220.2 L746.5 220.2 L746 220.2 L745.5 220.2 L745 220.2 L744.5 220.2 L744 220.2 L743.5 220.2 L743 220.2 L742.5 220.2 L742 220.2 L741.5 220.2 L741 220.2 L740.5 220.2 L740 220.2 L739.5 220.2 L739 220.2 L738.5 220.2 L738 220.2 L737.5 220.2 L737 220.2 L736.5 220.2 L736 220.2 L735.5 220.2 L735 220.2 L734.5 220.2 L734 220.2 L733.5 220.2 L733 220.2 L732.5 220.2 L732 220.2 L731.5 220.2 L731 220.2 L730.5 220.2 L730 220.2 L729.5 220.2 L729 220.2 L728.5 220.2 L728 220.2 L727.5 220.2 L727 220.2 L726.5 220.2 L726 220.2 L725.5 220.2 L725 220.2 L724.5 220.2 L724 220.2 L723.5 220.2 L723 220.2 L722.5 220.2 L722 220.2 L721.5 220.2 L721 220.2 L720.5 220.2 L720 220.2 L719.5 220.2 L719 220.2 L718.5 220.2 L718 220.2 L717.5 220.2 L717 220.2 L716.5 220.2 L716 220.2 L715.5 220.2 L715 220.2 L714.5 220.2 L714 220.2 L713.5 220.2 L713 220.2 L712.5 220.2 L712 220.2 L711.5 220.2 L711 220.2 L710.5 220.2 L710 220.2 L709.5 220.2 L709 220.2 L708.5 220.2 L708 220.2 L707.5 220.2 L707 220.2 L706.5 220.2 L706 220.2 L705.5 220.2 L705 220.2 L704.5 220.2 L704 220.2 L703.5 220.2 L703 220.2 L702.5 220.2 L702 220.2 L701.5 220.2 L701 220.2 L700.5 220.2 L700 220.2 L699.5 220.2 L699 220.2 L698.5 220.2 L698 220.2 L697.5 220.2 L697 220.2 L696.5 220.2 L696 220.2 L695.5 220.2 L695 220.2 L694.5 220.2 L694 220.1 L693.5 220.1 L693 220.1 L692.5 220.1 L692 220.1 L691.5 220.1 L691 220.1 L690.5 220.1 L690 220.1 L689.5 220.1 L689 220.1 L688.5 220.1 L688 220.1 L687.5 220.1 L687 220.1 L686.5 220.1 L686 220.1 L685.5 220.1 L685 220.1 L684.5 220.1 L684 220.1 L683.5 220.1 L683 220.1 L682.5 220.1 L682 220.1 L681.5 220.1 L681 220.1 L680.5 220.1 L680 220.1 L679.5 220.1 L679 220.1 L678.5 220.1 L678 220.1 L677.5 220.1 L677 220.1 L676.5 220.1 L676 220.1 L675.5 220.1 L675 220.1 L674.5 220.1 L674 220.1 L673.5 220.1 L673 220.1 L672.5 220.1 L672 220.1 L671.5 220.1 L671 220.1 L670.5 220.1 L670 220.1 L669.5 220.1 L669 220.1 L668.5 220.1 L668 220.1 L667.5 220.1 L667 220.1 L666.5 220.1 L666 220.1 L665.5 220.1 L665 220.1 L664.5 220.1 L664 220.1 L663.5 220.1 L663 220.1 L662.5 220.1 L662 220.1 L661.5 220.1 L661 220.1 L660.5 220.1 L660 220.1 L659.5 220.1 L659 220.1 L658.5 220.1 L658 220.1 L657.5 220.1 L657 220.1 L656.5 220.1 L656 220.1 L655.5 220.1 L655 220.1 L654.5 220.1 L654 220.1 L653.5 220.1 L653 220.1 L652.5 220.1 L652 220.1 L651.5 220.1 L651 220.1 L650.5 220.1 L650 220.1 L649.5 220.1 L649 220.1 L648.5 220.1 L648 220.1 L647.5 220.1 L647 220.1 L646.5 220.1 L646 220.1 L645.5 220.1 L645 220.1 L644.5 220.1 L644 220.1 L643.5 220.1 L643 220.1 L642.5 220.1 L642 220.1 L641.5 220.1 L641 220.1 L640.5 220.1 L640 220.1 L639.5 220.1 L639 220.1 L638.5 220.1 L638 220.1 L637.5 220.1 L637 220.1 L636.5 220.1 L636 220.1 L635.5 220.1 L635 220.1 L634.5 220.1 L634 220.1 L633.5 220.1 L633 220.1 L632.5 220.1 L632 220.1 L631.5 220.1 L631 220.1 L630.5 220.1 L630 220.1 L629.5 220.1 L629 220.1 L628.5 220.1 L628 220.1 L627.5 220.1 L627 220.1 L626.5 220.1 L626 220.1 L625.5 220.1 L625 220.1 L624.5 220.1 L624 220.1 L623.5 220.1 L623 220.1 L622.5 220.1 L622 220.1 L621.5 220.1 L621 220.1 L620.5 220.1 L620 220.1 L619.5 220.1 L619 220.1 L618.5 220.1 L618 220.1 L617.5 220.1 L617 220.1 L616.5 220.1 L616 220.1 L615.5 220.1 L615 220.1 L614.5 220.1 L614 220.1 L613.5 220.1 L613 220.1 L612.5 220.1 L612 220.1 L611.5 220.1 L611 220.1 L610.5 220.1 L610 220.1 L609.5 220.1 L609 220.1 L608.5 220.1 L608 220.1 L607.5 220.1 L607 220.1 L606.5 220.1 L606 220.1 L605.5 220.1 L605 220.1 L604.5 220.1 L604 220.1 L603.5 220.1 L603 220.1 L602.5 220.1 L602 220.1 L601.5 220.1 L601 220.1 L600.5 220.1 L600 220.1 L599.5 220.1 L599 220.1 L598.5 220.1 L598 220.1 L597.5 220.1 L597 220.1 L596.5 220.1 L596 220.1 L595.5 220.1 L595 220.1 L594.5 220.1 L594 220.1 L593.5 220.1 L593 220.1 L592.5 220.1 L592 220.1 L591.5 220.1 L591 220.1 L590.5 220.1 L590 220.1 L589.5 220.1 L589 220.1 L588.5 220.1 L588 220.1 L587.5 220.1 L587 220.1 L586.5 220.1 L586 220.1 L585.5 220.1 L585 220 L584.5 220 L584 220 L583.5 220 L583 220 L582.5 220 L582 220 L581.5 220 L581 220 L580.5 220 L580 220 L579.5 220 L579 220 L578.5 220 L578 220 L577.5 220 L577 220 L576.5 220 L576 220 L575.5 220 L575 220 L574.5 220 L574 220 L573.5 220 L573 220 L572.5 220 L572 220 L571.5 220 L571 220 L570.5 220 L570 220 L569.5 220 L569 220 L568.5 220 L568 220 L567.5 220 L567 220 L566.5 220 L566 220 L565.5 220 L565 220 L564.5 220 L564 220 L563.5 220 L563 220 L562.5 220 L562 220 L561.5 220 L561 220 L560.5 220 L560 220 L559.5 220 L559 220 L558.5 220 L558 220 L557.5 220 L557 220 L556.5 220 L556 220 L555.5 220 L555 220 L554.5 220 L554 220 L553.5 220 L553 220 L552.5 220 L552 220 L551.5 220 L551 220 L550.5 220 L550 220 L549.5 220 L549 220 L548.5 220 L548 220 L547.5 220 L547 220 L546.5 220 L546 220 L545.5 220 L545 220 L544.5 220 L544 220 L543.5 220 L543 220 L542.5 220 L542 220 L541.5 220 L541 220 L540.5 220 L540 220 L539.5 220 L539 220 L538.5 220 L538 220 L537.5 220 L537 220 L536.5 220 L536 220 L535.5 220 L535 220 L534.5 220 L534 220 L533.5 220 L533 220 L532.5 220 L532 220 L531.5 220 L531 220 L530.5 220 L530 218.3 L529.5 215.5 L529 212.6 L528.5 209.8 L528 206.9 L527.5 204.1 L527 201.5 L526.5 198.9 L526 196.3 L525.5 193.6 L525 191 L524.5 187.4 L524 183.5 L523.5 179.6 L523 177.2 L522.5 176.5 L522 175.8 L521.5 175.1 L521 174.4 L520.5 173.7 L520 173.1 L519.5 172.4 L519 171.7 L518.5 171 L518 170.3 L517.5 169.6 L517 168.9 L516.5 168.1 L516 167.3 L515.5 166.5 L515 165.8 L514.5 165 L514 164.2 L513.5 163.4 L513 162.7 L512.5 161.9 L512 161.1 L511.5 160.3 L511 159.6 L510.5 158.8 L510 156.9 L509.5 155 L509 153.1 L508.5 151.2 L508 149.3 L507.5 147.4 L507 145.5 L506.5 143.6 L506 141.7 L505.5 139.8 L505 137.9 L504.5 136.3 L504 136.3 L503.5 136.3 L503 136.3 L502.5 136.3 L502 136.3 L501.5 136.3 L501 136.3 L500.5 136.3 L500 136.3 L499.5 136.3 L499 136.3 L498.5 136.3 L498 136.3 L497.5 136.3 L497 136.3 L496.5 136.3 L496 136.3 L495.5 136.3 L495 136.3 L494.5 136.3 L494 136.3 L493.5 136.3 L493 136.3 L492.5 136.3 L492 136.3 L491.5 136.3 L491 136.3 L490.5 136.3 L490 136.3 L489.5 136.3 L489 136.3 L488.5 136.3 L488 136.3 L487.5 136.3 L487 136.3 L486.5 136.3 L486 136.3 L485.5 136.1 L485 135.3 L484.5 134.5 L484 133.7 L483.5 132.9 L483 132 L482.5 131.2 L482 130.4 L481.5 129.6 L481 128.8 L480.5 128 L480 127.1 L479.5 126.3 L479 125.6 L478.5 124.9 L478 124.2 L477.5 123.5 L477 122.8 L476.5 122.1 L476 121.4 L475.5 120.7Z" fill="rgba(244,67,54,0.1)" stroke="none"/>
<path d="M840.5 297.1 L841 297 L841.5 296.9 L842 296.8 L842.5 296.7 L843 296.5 L843.5 296.4 L844 296.3 L844.5 296.2 L845 296.1 L845.5 295.9 L846 295.8 L846.5 295.7 L847 295.6 L847.5 295.4 L848 295.3 L848.5 295.2 L849 295.1 L849.5 294.9 L850 294.8 L850.5 294.7 L851 294.6 L851.5 294.5 L852 294 L852.5 293.4 L853 292.7 L853.5 292.1 L854 291.4 L854.5 290.8 L855 290.1 L855.5 289.5 L856 288.8 L856.5 288.2 L857 287.5 L857.5 286.9 L858 286.2 L858.5 285.6 L859 285.6 L859.5 285.5 L860 285.5 L860.5 285.4 L861 285.4 L861.5 285.4 L862 285.3 L862.5 285.3 L863 285.3 L863.5 285.2 L864 285.2 L864.5 285.1 L865 285.1 L865.5 285 L866 284.7 L866.5 284.4 L867 284.1 L867.5 283.9 L868 283.6 L868.5 283.3 L869 283.1 L869.5 282.8 L870 282.5 L870.5 282.2 L871 282 L871.5 281.9 L872 281.9 L872.5 281.9 L873 281.9 L873.5 281.9 L874 281.9 L874.5 281.9 L875 281.9 L875.5 281.9 L876 281.9 L876.5 281.9 L877 281.9 L877.5 281.9 L878 281.9 L878.5 281.9 L879 281.9 L879.5 281.9 L880 281.9 L880.5 281.9 L881 281.9 L881.5 281.9 L882 281.9 L882.5 281.9 L883 281.8 L883.5 281.3 L884 280.8 L884.5 280.3 L885 279.9 L885.5 279.4 L886 278.9 L886.5 278.5 L887 278 L887.5 277.5 L888 277.1 L888.5 276.6 L889 276.1 L889.5 275.7 L890 275.2 L890.5 274.7 L891 274.3 L891.5 273.2 L892 272.2 L892.5 271.1 L893 270.1 L893.5 269 L894 268 L894.5 266.9 L895 265.9 L895.5 264.9 L896 263.8 L896.5 262.9 L897 262.7 L897.5 262.4 L898 262.2 L898.5 262 L899 261.8 L899.5 261.6 L900 261.4 L900.5 261.2 L901 261 L901.5 260.8 L902 260.6 L902.5 260.4 L903 260.2 L903.5 260 L904 259.8 L904.5 259.6 L905 259.4 L905.5 259.2 L906 259 L906.5 258.8 L907 258.6 L907.5 258.4 L908 258.2 L908.5 258 L909 257.8 L909.5 257.6 L910 257.4 L910.5 257.1 L911 256.5 L911.5 256 L912 255.4 L912.5 254.9 L913 254.3 L913.5 253.7 L914 253.2 L914.5 252.6 L915 252.1 L915.5 251.5 L916 251 L916.5 251 L917 250.9 L917.5 250.9 L918 250.8 L918.5 250.8 L919 250.8 L919.5 250.7 L920 250.7 L920.5 250.6 L921 250.6 L921.5 250.5 L922 250.4 L922.5 250.1 L923 249.8 L923.5 249.5 L924 249.2 L924.5 248.9 L925 248.6 L925.5 248.3 L926 248 L926.5 247.7 L927 247.4 L927.5 247.1 L928 246.8 L928.5 246.5 L929 246.2 L929.5 245.9 L930 245.8 L930.5 245.8 L931 245.8 L931.5 245.8 L932 245.8 L932.5 245.8 L933 245.8 L933.5 245.8 L934 245.8 L934.5 245.8 L935 245.5 L935.5 245.3 L936 245 L936.5 244.8 L937 244.5 L937.5 244.3 L938 244 L938.5 243.8 L939 243.5 L939.5 243.2 L940 243 L940.5 242.7 L941 242.5 L941.5 242.2 L942 242 L942.5 241.7 L943 241.6 L943.5 241.5 L944 241.4 L944.5 241.3 L945 241.2 L945.5 241.1 L946 241 L946.5 240.9 L947 240.8 L947.5 240.7 L948 240.5 L948.5 240.4 L949 240.3 L949.5 240 L950 239.7 L950.5 239.3 L951 239 L951.5 238.7 L952 238.4 L952.5 238 L953 237.7 L953.5 237.4 L954 237 L954.5 236.7 L955 236.4 L955.5 236.1 L956 235.9 L956.5 235.8 L957 235.7 L957.5 235.5 L958 235.4 L958.5 235.3 L959 235.1 L959.5 235 L960 234.9 L960.5 234.7 L961 234.6 L961.5 234.5 L962 233.8 L962.5 232.9 L963 232 L963.5 231 L964 230.1 L964.5 229.1 L965 228.2 L965.5 227.3 L966 226.3 L966.5 225.4 L967 224.5 L967.5 224.5 L968 224.8 L968.5 225.1 L969 225.4 L969.5 225.7 L970 226 L970.5 226.3 L971 226.6 L971.5 226.9 L972 227.2 L972.5 227.5 L973 227.8 L973.5 228.1 L974 227.9 L974.5 227.7 L975 227.4 L975.5 227.2 L976 226.9 L976.5 226.7 L977 226.4 L977.5 226.2 L978 225.9 L978.5 225.7 L979 225.4 L979.5 225.2 L980 224.9 L980.5 224.8 L981 224.8 L981.5 224.8 L982 224.8 L982.5 224.9 L983 224.9 L983.5 224.9 L984 225 L984.5 225 L985 225 L985.5 225 L986 225.1 L986.5 225.2 L987 225.3 L987.5 225.5 L988 225.6 L988.5 225.8 L989 226 L989.5 226.1 L990 226.3 L990.5 226.5 L991 226.6 L991.5 226.8 L992 226.9 L992.5 227.1 L993 227.2 L993.5 227.2 L994 227.2 L994.5 227.3 L995 227.3 L995.5 227.4 L996 227.4 L996.5 227.4 L997 227.5 L997.5 227.5 L998 227.5 L998.5 227.6 L999 227.6 L999.5 227.9 L1000 228.2 L1000.5 228.4 L1001 228.7 L1001.5 229 L1002 229.2 L1002.5 229.5 L1003 229.7 L1003.5 230 L1004 230.3 L1004.5 230.5 L1005 230.8 L1005.5 231 L1006 231.1 L1006.5 231.1 L1007 231.1 L1007.5 231.1 L1008 231.2 L1008.5 231.2 L1009 231.2 L1009.5 231.3 L1010 231.3 L1010.5 231.3 L1011 231.4 L1011.5 231.4 L1012 231.4 L1012.5 231.5 L1013 231.5 L1013.5 231.6 L1014 232 L1014.5 232.4 L1015 232.8 L1015.5 233.2 L1016 233.5 L1016.5 233.9 L1017 234.3 L1017.5 234.7 L1018 235.1 L1018.5 235.5 L1019 235.9 L1019.5 236.2 L1020 236.4 L1020.5 236.5 L1021 236.7 L1021.5 236.9 L1022 237.1 L1022.5 237.3 L1023 237.5 L1023.5 237.7 L1024 237.8 L1024.5 238 L1025 238.2 L1025.5 238.4 L1026 238.5 L1026.5 238.6 L1027 238.7 L1027.5 238.9 L1028 239 L1028.5 239.1 L1029 239.2 L1029.5 239.4 L1030 239.5 L1030.5 239.6 L1031 239.7 L1031.5 239.9 L1032 240 L1032.5 241 L1033 242 L1033.5 243.1 L1034 244.2 L1034.5 245.2 L1035 246.3 L1035.5 247.3 L1036 248.4 L1036.5 249.4 L1037 250.5 L1037.5 251.6 L1038 252.5 L1038.5 252.5 L1039 252.5 L1039.5 252.5 L1040 252.5 L1040.5 252.5 L1041 252.5 L1041.5 252.5 L1042 252.5 L1042.5 252.5 L1043 252.5 L1043.5 252.5 L1044 252.5 L1044.5 252.5 L1045 252.5 L1045.5 252.5 L1046 252.5 L1046.5 252.5 L1047 252.5 L1047.5 252.5 L1048 252.5 L1048.5 252.5 L1049 252.5 L1049.5 252.5 L1050 252.7 L1050.5 253.2 L1051 253.7 L1051.5 254.2 L1052 254.7 L1052.5 255.1 L1053 255.6 L1053.5 256.1 L1054 256.6 L1054.5 257.1 L1055 257.6 L1055.5 258.1 L1056 258.6 L1056.5 259 L1057 259.4 L1057.5 259.5 L1058 259.6 L1058.5 259.7 L1059 259.8 L1059.5 259.9 L1060 260 L1060.5 260.1 L1061 260.2 L1061.5 260.3 L1062 260.4 L1062.5 260.5 L1063 260.6 L1063.5 260.7 L1064 261.2 L1064.5 261.9 L1065 262.5 L1065.5 263.1 L1066 263.7 L1066.5 264.4 L1067 265 L1067.5 265.6 L1068 266.2 L1068.5 266.9 L1068.5 265.1 L1068 265.7 L1067.5 266.2 L1067 266.8 L1066.5 267.3 L1066 267.8 L1065.5 268.4 L1065 268.9 L1064.5 269.4 L1064 270 L1063.5 270.5 L1063 271.1 L1062.5 271.6 L1062 272.1 L1061.5 272.7 L1061 273.2 L1060.5 273.7 L1060 274.3 L1059.5 274.8 L1059 275.4 L1058.5 275.9 L1058 276.4 L1057.5 277 L1057 277.5 L1056.5 278.1 L1056 278.6 L1055.5 279.1 L1055 279.7 L1054.5 280.2 L1054 280.7 L1053.5 281.3 L1053 281.8 L1052.5 282.4 L1052 282.9 L1051.5 283.4 L1051 284 L1050.5 284.4 L1050 284.4 L1049.5 284.4 L1049 284.4 L1048.5 284.4 L1048 284.4 L1047.5 284.4 L1047 284.4 L1046.5 284.4 L1046 284.4 L1045.5 284.4 L1045 284.4 L1044.5 284.4 L1044 284.4 L1043.5 284.4 L1043 284.4 L1042.5 284.4 L1042 284.4 L1041.5 284.4 L1041 284.4 L1040.5 284.4 L1040 284.4 L1039.5 284.4 L1039 284.4 L1038.5 284.4 L1038 284.4 L1037.5 284.4 L1037 284.4 L1036.5 284.4 L1036 284.4 L1035.5 284.4 L1035 284.4 L1034.5 284.4 L1034 284.4 L1033.5 284.4 L1033 284.4 L1032.5 284.4 L1032 284.4 L1031.5 284.4 L1031 284.4 L1030.5 284.4 L1030 284.4 L1029.5 284.4 L1029 284.4 L1028.5 284.4 L1028 284.4 L1027.5 284.4 L1027 284.4 L1026.5 284.4 L1026 284.4 L1025.5 284.4 L1025 284.4 L1024.5 284.4 L1024 284.4 L1023.5 284.4 L1023 284.4 L1022.5 284.4 L1022 284.4 L1021.5 284.4 L1021 284.4 L1020.5 284.4 L1020 284.4 L1019.5 284.4 L1019 284.4 L1018.5 284.4 L1018 284.4 L1017.5 284.4 L1017 284.4 L1016.5 284.4 L1016 284.4 L1015.5 284.4 L1015 284.4 L1014.5 284.4 L1014 284.4 L1013.5 284.4 L1013 284.4 L1012.5 284.4 L1012 284.4 L1011.5 284.4 L1011 284.4 L1010.5 284.4 L1010 284.4 L1009.5 284.4 L1009 284.4 L1008.5 284.4 L1008 284.4 L1007.5 284.4 L1007 284.4 L1006.5 284.4 L1006 284.4 L1005.5 284.4 L1005 284.4 L1004.5 284.4 L1004 284.4 L1003.5 284.4 L1003 284.4 L1002.5 284.4 L1002 284.4 L1001.5 284.4 L1001 284.4 L1000.5 284.4 L1000 284.4 L999.5 284.4 L999 284.4 L998.5 284.4 L998 284.4 L997.5 284.4 L997 284.4 L996.5 284.4 L996 284.4 L995.5 284.4 L995 284.4 L994.5 284.4 L994 284.4 L993.5 284.4 L993 284.4 L992.5 284.4 L992 284.4 L991.5 284.4 L991 284.4 L990.5 284.4 L990 284.4 L989.5 284.4 L989 284.4 L988.5 284.4 L988 284.4 L987.5 284.4 L987 284.4 L986.5 284.4 L986 284.4 L985.5 284.4 L985 284.4 L984.5 284.4 L984 284.4 L983.5 284.4 L983 284.4 L982.5 284.4 L982 284.4 L981.5 284.4 L981 284.4 L980.5 284.4 L980 284.4 L979.5 284.4 L979 284.4 L978.5 284.4 L978 284.4 L977.5 284.4 L977 284.4 L976.5 284.4 L976 284.4 L975.5 284.4 L975 284.4 L974.5 284.4 L974 284.4 L973.5 284.4 L973 284.4 L972.5 284.4 L972 284.4 L971.5 284.4 L971 284.4 L970.5 284.4 L970 284.4 L969.5 284.4 L969 284.4 L968.5 284.4 L968 284.4 L967.5 284.4 L967 284.4 L966.5 284.4 L966 284.4 L965.5 284.4 L965 284.4 L964.5 284.4 L964 284.4 L963.5 284.4 L963 284.4 L962.5 284.4 L962 284.4 L961.5 284.4 L961 284.4 L960.5 284.4 L960 284.4 L959.5 284.4 L959 284.4 L958.5 284.4 L958 284.4 L957.5 284.4 L957 284.4 L956.5 284.4 L956 284.4 L955.5 284.4 L955 284.4 L954.5 284.4 L954 284.4 L953.5 284.4 L953 284.4 L952.5 284.4 L952 284.4 L951.5 284.4 L951 284.4 L950.5 284.4 L950 284.4 L949.5 284.4 L949 284.4 L948.5 284.4 L948 284.4 L947.5 284.4 L947 284.4 L946.5 284.4 L946 284.4 L945.5 284.4 L945 284.4 L944.5 284.4 L944 284.4 L943.5 284.4 L943 284.4 L942.5 284.4 L942 284.4 L941.5 284.4 L941 284.4 L940.5 284.4 L940 284.4 L939.5 284.4 L939 284.4 L938.5 284.4 L938 284.4 L937.5 284.4 L937 284.4 L936.5 284.4 L936 284.4 L935.5 284.4 L935 284.4 L934.5 284.4 L934 284.4 L933.5 284.4 L933 284.4 L932.5 284.4 L932 284.4 L931.5 284.4 L931 284.4 L930.5 284.4 L930 284.4 L929.5 284.5 L929 284.8 L928.5 285.1 L928 285.4 L927.5 285.7 L927 286 L926.5 286.3 L926 286.6 L925.5 286.9 L925 287.2 L924.5 287.5 L924 287.8 L923.5 288.1 L923 288.4 L922.5 288.6 L922 288.9 L921.5 289 L921 289.1 L920.5 289.1 L920 289.2 L919.5 289.2 L919 289.3 L918.5 289.3 L918 289.4 L917.5 289.4 L917 289.5 L916.5 289.8 L916 290.4 L915.5 290.9 L915 291.4 L914.5 292 L914 292.5 L913.5 293 L913 293.6 L912.5 294.1 L912 294.6 L911.5 295.1 L911 295.7 L910.5 296.2 L910 296.7 L909.5 297.3 L909 297.6 L908.5 297.6 L908 297.6 L907.5 297.6 L907 297.6 L906.5 297.6 L906 297.6 L905.5 297.6 L905 297.6 L904.5 297.6 L904 297.6 L903.5 297.6 L903 297.6 L902.5 297.6 L902 297.6 L901.5 297.6 L901 297.6 L900.5 297.6 L900 297.6 L899.5 297.6 L899 297.6 L898.5 297.6 L898 297.6 L897.5 297.6 L897 297.6 L896.5 297.6 L896 298.1 L895.5 298.8 L895 299.5 L894.5 300.2 L894 300.9 L893.5 301.6 L893 302.3 L892.5 302.9 L892 303.6 L891.5 304.3 L891 305 L890.5 305.7 L890 306.1 L889.5 306.1 L889 306.1 L888.5 306.1 L888 306.1 L887.5 306.1 L887 306.1 L886.5 306.1 L886 306.1 L885.5 306.1 L885 306.1 L884.5 306.1 L884 306.1 L883.5 306.1 L883 306.1 L882.5 306.1 L882 306.1 L881.5 306.1 L881 306.1 L880.5 306.1 L880 306.1 L879.5 306.1 L879 306.1 L878.5 306.1 L878 306.1 L877.5 306.1 L877 306.1 L876.5 306.1 L876 306.1 L875.5 306.1 L875 306.1 L874.5 306.1 L874 306.1 L873.5 306.1 L873 306.1 L872.5 306.1 L872 306.1 L871.5 306.1 L871 306.1 L870.5 306.1 L870 306.1 L869.5 306.1 L869 306.1 L868.5 306.1 L868 306.1 L867.5 306.1 L867 306.1 L866.5 306.1 L866 306.1 L865.5 306.1 L865 306.1 L864.5 306.1 L864 306.1 L863.5 306.2 L863 306.8 L862.5 307.5 L862 308.1 L861.5 308.7 L861 309.3 L860.5 309.9 L860 310.5 L859.5 311.2 L859 311.8 L858.5 312.4 L858 312.4 L857.5 312.4 L857 312.4 L856.5 312.4 L856 312.4 L855.5 312.4 L855 312.4 L854.5 312.4 L854 312.4 L853.5 312.4 L853 312.4 L852.5 312.4 L852 312.4 L851.5 312.4 L851 312.4 L850.5 312.4 L850 312.4 L849.5 312.4 L849 312.4 L848.5 312.4 L848 312.4 L847.5 312.4 L847 312.4 L846.5 312.4 L846 312.4 L845.5 312.4 L845 312.4 L844.5 312.4 L844 310.9 L843.5 309.1 L843 307.2 L842.5 305.4 L842 303.5 L841.5 301.7 L841 299.8 L840.5 298Z" fill="rgba(67,160,71,0.1)" stroke="none"/>
<path d="M1068 266.2 L1068.5 266.9 L1069 267.5 L1069.5 268.1 L1070 268.7 L1070.5 269.5 L1071 270.5 L1071.5 271.4 L1072 272.4 L1072.5 273.4 L1073 274.4 L1073.5 275.4 L1074 276.4 L1074.5 277.4 L1075 278.4 L1075.5 279.3 L1076 280.3 L1076.5 281.3 L1077 282.1 L1077.5 282.5 L1078 283 L1078.5 283.4 L1079 283.8 L1079.5 284.3 L1080 284.7 L1080.5 285.2 L1081 285.6 L1081.5 286.1 L1082 286.5 L1082.5 287 L1083 287.4 L1083.5 287.8 L1084 288.3 L1084.5 288.7 L1085 289.1 L1085.5 289.5 L1086 290 L1086.5 290.4 L1087 290.8 L1087.5 291.2 L1088 291.7 L1088.5 292.1 L1089 292.5 L1089.5 292.9 L1090 293.3 L1090.5 293.4 L1091 293.5 L1091.5 293.6 L1092 293.7 L1092.5 293.8 L1093 293.9 L1093.5 294.1 L1094 294.2 L1094.5 294.3 L1095 294.4 L1095.5 294.5 L1096 294.7 L1096.5 294.9 L1097 295.2 L1097.5 295.4 L1098 295.7 L1098.5 295.9 L1099 296.2 L1099.5 296.4 L1100 296.7 L1100.5 296.9 L1101 297.2 L1101.5 297.4 L1102 297.7 L1102.5 297.9 L1103 298.3 L1103.5 298.7 L1104 299 L1104.5 299.4 L1105 299.7 L1105.5 300.1 L1106 300.4 L1106.5 300.8 L1107 301.2 L1107.5 301.5 L1108 301.9 L1108.5 302.2 L1109 302.3 L1109.5 302.4 L1110 302.5 L1110.5 302.6 L1111 302.7 L1111.5 302.8 L1112 302.9 L1112.5 303 L1113 303.1 L1113.5 303.2 L1114 303.3 L1114.5 303.4 L1115 303.5 L1115.5 303.5 L1116 303.4 L1116.5 303.3 L1117 303.3 L1117.5 303.2 L1118 303.1 L1118.5 303 L1119 302.9 L1119.5 302.8 L1120 302.7 L1120.5 302.7 L1121 302.6 L1121.5 302.5 L1122 302.5 L1122.5 302.5 L1123 302.5 L1123.5 302.5 L1124 302.5 L1124.5 302.5 L1125 302.5 L1125 275.6 L1124.5 275.6 L1124 275.6 L1123.5 275.6 L1123 275.6 L1122.5 275.6 L1122 275.6 L1121.5 275.6 L1121 275.6 L1120.5 275.6 L1120 275.6 L1119.5 275.6 L1119 275.6 L1118.5 275.6 L1118 275.6 L1117.5 275.6 L1117 275.6 L1116.5 275.6 L1116 275.6 L1115.5 275.6 L1115 275.6 L1114.5 275.6 L1114 275.6 L1113.5 275.6 L1113 275.6 L1112.5 275.6 L1112 275.6 L1111.5 275.6 L1111 275.6 L1110.5 275.6 L1110 275.6 L1109.5 275.6 L1109 275.6 L1108.5 275.6 L1108 275.6 L1107.5 275.6 L1107 275.6 L1106.5 275.6 L1106 275.6 L1105.5 275.6 L1105 275.6 L1104.5 275.6 L1104 275.6 L1103.5 275.6 L1103 275.6 L1102.5 275.6 L1102 275.6 L1101.5 275.6 L1101 275.6 L1100.5 275.6 L1100 275.6 L1099.5 275.6 L1099 275.6 L1098.5 275.6 L1098 275.6 L1097.5 275.6 L1097 275.6 L1096.5 275.6 L1096 275.6 L1095.5 275.6 L1095 275.6 L1094.5 275.6 L1094 275.6 L1093.5 275.6 L1093 275.6 L1092.5 275.6 L1092 275.6 L1091.5 275.6 L1091 275.6 L1090.5 275.6 L1090 275.6 L1089.5 275.6 L1089 275.6 L1088.5 275.6 L1088 275.6 L1087.5 275.6 L1087 275.6 L1086.5 275.6 L1086 275.6 L1085.5 275.6 L1085 275.6 L1084.5 275.6 L1084 275.6 L1083.5 275.6 L1083 275.6 L1082.5 275.5 L1082 275.4 L1081.5 275.2 L1081 275.1 L1080.5 275 L1080 274.9 L1079.5 274.8 L1079 274.7 L1078.5 274.6 L1078 274.5 L1077.5 274.4 L1077 274.2 L1076.5 273.7 L1076 272.8 L1075.5 272 L1075 271.2 L1074.5 270.3 L1074 269.5 L1073.5 268.6 L1073 267.8 L1072.5 266.9 L1072 266.1 L1071.5 265.2 L1071 264.4 L1070.5 263.5 L1070 263.5 L1069.5 264.1 L1069 264.6 L1068.5 265.1 L1068 265.7Z" fill="rgba(244,67,54,0.1)" stroke="none"/>
<path d="M10.5 246.4 L22 246.4 L28.8 243.4 L40.7 243.1 L48 239.3 L54.2 235.4 L61 230.3 L67.8 222.7 L74.1 202 L80.5 184.6 L93.2 184.6 L99.2 180.3 L130.5 180.3 L138.1 192.2 L144.1 192.2 L150.8 189.3 L157.6 189.3 L166.1 186.3 L175.4 177.8 L183.9 172.7 L192.4 170.2 L202.5 168.5 L208.5 164.7 L215.3 163.6 L222 158 L228 156.8 L240.7 156.3 L247.5 163.4 L266.9 163.4 L273.7 161.7 L280.5 156.3 L292.4 152 L299.2 152.5 L305.9 154.6 L324.6 154.6 L331.4 151.2 L337.6 146.6 L344.1 146.4 L350 144.1 L357.1 138.5 L363.6 131.7 L369.3 122.4 L376.1 121.5 L382.5 114.7 L389.3 110.8 L395.8 108.8 L402.5 107.1 L408.5 105.4 L414.7 100.8 L421.2 98.3 L440.2 98.6 L446.6 101.7 L452.9 104.6 L459.7 104.6 L465.6 102.5 L472 104.1 L475.8 122.4 L479.2 134.2 L485.6 146.1 L497.8 146.4 L504.6 150.3 L510.5 172.4 L517.6 182.9 L524.1 194.7 L527.5 215.9 L530.2 243.7 L536.9 249.7 L555.6 250.2 L562.4 259 L568.8 270 L575.1 270.8 L581 266.6 L588.3 262.4 L595.1 260.7 L601.4 257.3 L607.6 255.1 L614.4 257.1 L620.7 256.6 L627.5 258 L633.6 261.4 L639.8 267.6 L646.3 275.8 L659.3 276.6 L665.6 279.2 L672.5 289.3 L678.5 301.2 L684.7 304.6 L691.5 304.2 L697.5 297.5 L704.2 306.3 L716.9 309.7 L722.9 317.8 L729.2 322.9 L740.7 322.5 L745.8 318.6 L754.2 320.3 L761.9 319.8 L772.9 318.1 L778.8 308.5 L784.7 304.2 L793.2 299.7 L800.3 298.3 L818.6 297.8 L840.7 297.1 L851.7 294.4 L858.5 285.6 L865.3 285.1 L871.2 281.9 L878 281.9 L882.9 281.9 L891 274.2 L896.4 262.9 L903.9 259.8 L910.3 257.3 L915.9 251 L921.9 250.5 L929.7 245.8 L934.6 245.8 L942.5 241.7 L949 240.3 L955.4 236.1 L961.7 234.4 L967.1 224.2 L973.6 228.1 L980.3 224.7 L986.3 225.1 L992.5 227.1 L999 227.6 L1005.4 231 L1013.4 231.5 L1019.3 236.1 L1025.3 238.3 L1032 240 L1038 252.5 L1049.8 252.5 L1056.8 259.3 L1063.6 260.7 L1070.3 269.2 L1076.8 281.9 L1083.1 287.5 L1089.8 293.2 L1095.8 294.6 L1102.5 298 L1108.5 302.2 L1115.3 303.6 L1121.2 302.5 L1125.1 302.5" fill="none" stroke="#a5d6a7" stroke-width="1.15" stroke-linejoin="round" stroke-linecap="round"/>
<path d="M10.5 271.2 L16.1 264.7 L35.6 264.7 L41.5 260.2 L48 253.7 L54.2 251.2 L61 246.9 L67.8 239.8 L74.1 221.9 L80.5 204.4 L189 203.7 L195.8 198.3 L202.5 197.3 L208.5 197.3 L215.3 190.2 L222 189.3 L228.3 187.6 L336.4 187.6 L350.3 180 L357.1 177.5 L363.6 174.1 L369.3 164.7 L376.1 157.1 L382.5 150.3 L395.8 149.5 L408 149 L414.7 144.7 L421.2 142.7 L434.2 142.7 L440.5 139 L446.9 129.2 L453.4 124.1 L459.7 120.2 L465.6 115.9 L472 115.9 L479.2 125.8 L485.6 136.3 L504.6 136.3 L510.5 158.8 L517.6 169.8 L523.2 177.5 L524.9 190.5 L527.5 204.1 L530.3 220 L749.2 220.2 L755.6 235.5 L761.9 239.8 L772.9 240.4 L781.4 248.2 L791.5 249.6 L800.3 254.7 L806.8 269.5 L813.2 279.2 L832.2 279.7 L839 292.4 L844.4 312.4 L858.5 312.4 L863.6 306.1 L890.2 306.1 L896.4 297.6 L909.2 297.6 L916.8 289.5 L921.9 289 L929.7 284.4 L1050.6 284.4 L1070.3 263.2 L1076.8 274.2 L1083.1 275.6 L1125.1 275.6" fill="none" stroke="#faa1a4" stroke-width="1.15" stroke-linejoin="round" stroke-linecap="round"/>
<path d="M10.5 286.8 L33.9 282.5 L80.5 275.8 L118.6 269.3 L150 267.1 L166.9 264.1 L189.8 260.2 L209.3 256.4 L234.7 250.8 L260.2 245.4 L266.9 244.2 L292.4 239.5 L317.8 236.1 L334.7 234.4 L351.7 233.6 L380.8 233.6 L431.7 233.6 L482.5 234.2 L530 234.9 L545.4 235.3 L570.8 234.7 L604.7 233.4 L638.6 232.2 L672.5 229.3 L698 228 L700 228.5 L716.9 227.3 L742.4 225.1 L767.8 223.4 L793.2 221.7 L818.6 220.5 L844.1 219.7 L869.5 219.5 L900 220 L927.8 221.4 L944.7 222.2 L967.8 223.4" fill="none" stroke="#26c6da" stroke-width="1.15" stroke-linejoin="round" stroke-linecap="round"/>
<path d="M10.5 253.6 L25.4 248.5 L48 241 L67.8 235.4 L80.5 232 L106.8 226.1 L137.3 220.2 L157.6 215.1 L178 209.2 L200 203.7 L209.3 200.3 L234.7 192.4 L251.7 186.8 L268.6 182.5 L285.6 178.8 L302.5 175.8 L319.5 173.6 L330 172.2 L343.6 170.5 L357.1 170.5 L382.5 173.6 L408 175.3 L431.7 175.6 L459.7 176.9 L482.5 179 L499.5 180 L516.4 182 L520 182.2 L533.6 185.6 L550.5 189.8 L567.5 194.4 L584.4 197.1 L601.4 199.5 L621.7 203.4 L638.6 206.8 L655.6 209.7 L672.5 212.4 L689.5 215.3 L706.4 218.6 L720 221.2 L742.4 225.1 L767.8 227.6 L784.7 228.5 L805.1 230.2 L811.9 231.9 L818.6 233.6 L849.2 238.6 L860 240 L876.9 245.8 L893.9 252.2 L910.8 258.1 L927.8 264.4 L944.7 269.7 L956.6 272.2 L967.8 274.2" fill="none" stroke="#2196f3" stroke-width="1.15" stroke-linejoin="round" stroke-linecap="round"/>
<path d="M10.5 218.1 L25.4 210.8 L48 201.2 L67.8 195.6 L86.8 190.8 L106.8 185.1 L127.1 180 L147.5 174.4 L166.9 168.1 L178 165.9 L193.2 160 L208.5 151.7 L228 145.6 L247.5 140.5 L260.2 135.1 L273.7 130.5 L285.6 126.1 L299.2 124.4 L312.7 123.9 L324.6 124.7 L330 125.8 L338.5 127.5 L346.9 130.5 L355.4 133.9 L363.9 138.5 L372.4 143.6 L382.5 149.5 L389.3 152.9 L402.5 158.8 L414.7 162.7 L427.5 166.4 L440.2 171.2 L452.9 175.8 L459.7 176.9 L482.5 186.3 L499.5 194.7 L516.4 205.8 L530 214.7 L536.1 220 L552.2 233.6 L567.5 247.1 L581 258.6 L594.6 266.6 L600 269.3 L613.6 277.5 L625.4 285.1 L633.9 288.5 L650.8 291.9 L665.3 293.6 L676.3 292.7 L697.5 288.5 L718.6 285.9 L735.6 284.6 L752.5 282.5 L769.5 279.2 L786.4 275.8 L800 272.7 L818.6 270.3 L844.1 263.6 L860 260.7 L870.2 256.4 L880.3 253.6 L893.9 251.9 L904.1 251.9 L915.9 253.4 L927.8 255.3 L939.7 256.4 L954.9 256.4 L961.7 256.9 L967.8 258" fill="none" stroke="#ff6d00" stroke-width="1.15" stroke-linejoin="round" stroke-linecap="round"/>
<path d="M10.5 124.2 L16.5 117.1 L23.5 121.9 L29.5 110.2 L35.5 104.9 L42.5 101 L48.5 84.1 L55.5 83.6 L61.5 67.1 L68.5 68.8 L74.5 70.8 L80.5 73.9 L87.5 67.1 L93.5 56.1 L100.5 96.8 L106.5 105.8 L113.5 103.1 L119.5 95.9 L125.5 124.7 L132.5 114.6 L138.5 116.6 L145.5 122.7 L151.5 157.6 L158.5 190.5 L164.5 187.3 L170.5 188.1 L177.5 192.7 L183.5 215.9 L190.5 261.5 L196.5 280.5 L203.5 300.5 L209.5 332.7 L215.5 335.9 L222.5 296.3 L228.5 287.3 L235.5 297.5 L241.5 284.4 L247.5 276.3 L254.5 263.2 L260.5 238.1 L267.5 255.6 L273.5 259.5 L280.5 272.5 L286.5 268.3 L292.5 258.1 L299.5 274.7 L305.5 278.5 L312.5 283.6 L318.5 287.3 L325.5 289.5 L331.5 275.1 L337.5 255.6 L344.5 288.6 L350.5 310.2 L357.5 308.8 L363.5 334.7 L370.5 331.4 L376.5 349.2 L382.5 351.7 L389.5 346.1 L395.5 364.7 L402.5 355.1 L408.5 327.1 L415.5 328.3 L421.5 312.2 L427.5 290.3 L434.5 306.6 L440.5 297.2 L447.5 281.2 L453.5 269 L460.5 319.8 L466.5 300 L472.5 317.6 L479.5 270.7 L485.5 265.3 L492.5 246.1 L498.5 257.6 L505.5 255.1 L511.5 246.1 L517.5 261 L524.5 249.2 L530.5 245.3 L537.5 258.8 L543.5 258.8 L550.5 255.9 L556.5 259.8 L562.5 248.8 L569.5 248 L575.5 223.4 L582.5 229.7 L588.5 228 L595.5 207.3 L601.5 204.4 L607.5 194.1 L614.5 211.5 L620.5 207.3 L627.5 211.5 L633.5 210.3 L639.5 204.4 L646.5 217.8 L652.5 244.6 L659.5 239.2 L665.5 232.4 L672.5 229.3 L678.5 228.1 L684.5 260.7 L691.5 238.6 L697.5 237.5 L704.5 237.8 L710.5 268.6 L717.5 279.3 L723.5 270.8 L729.5 292.4 L736.5 305.6 L742.5 301 L749.5 325.6 L755.5 347.6 L762.5 345.6 L768.5 327.3 L774.5 318 L781.5 325.6 L787.5 307.3 L794.5 299.8 L800.5 297.1 L807.5 309.5" fill="none" stroke="#43a047" stroke-width="1.15" stroke-linejoin="round" stroke-linecap="round"/>
<path d="M10.5 187.1 L22 181.7 L41.5 181.7 L48 173.6 L80.5 173.6 L86.8 179.2 L106.8 179.2 L112.5 175.3 L119.3 166.4 L125.4 161 L132.2 157.6 L138.3 152.6 L160 152.6 L166.9 152.4 L176.3 146.6 L183.9 146.6 L192.4 142.2 L201.7 138.5 L208.5 129 L215.3 128.5 L222 122.2 L228.8 121.7 L247.5 121.4 L254.2 116.3 L260.2 114.2 L299.2 114.2 L305.6 111.2 L311 104.1 L315.3 114.6 L319.5 126.4 L324.6 136.6 L344.1 136.6 L346.9 147.8 L350.3 158.8 L361.4 175.3 L369.3 219.7 L419.8 219.7 L427.8 236.3 L434.2 240 L446.9 240.5 L453.4 248.1 L459.7 248.5 L465.6 250.7 L466.6 251.4 L472.5 256.4 L479.3 270.8 L485.6 279.3 L503.1 279.7 L505.3 289.5 L511.5 289.5 L514.1 301.4 L517.8 312.4 L530.2 312.4 L536.9 293.7 L543.4 303.9 L555.6 304.2 L562.4 306.4 L582.7 306.8 L589.5 309.8 L595.1 312.4 L613.2 314.1 L618.6 310.5 L625.4 309.7 L654.2 309.7 L659.3 309 L722 308.8 L729.7 298.6 L735.6 283.4 L742.4 276.6 L749.2 273.2 L755.6 265.6 L761.9 265.8 L768.6 261.5 L774.6 260.7 L787.6 260.3 L800.5 256.1 L807.3 237.5 L813.6 236.9 L816.9 230.2 L852.5 230.2 L858.5 232.7 L871.5 233.6 L876.9 246.3 L889.7 246.3 L896.4 252.5 L904.1 253.1 L910.3 262.4 L916.8 274.2 L923.2 275.9 L934.6 275.9 L941.4 280.5 L960 280.5 L967.8 281.5" fill="none" stroke="#801922" stroke-width="1.15" stroke-linejoin="round" stroke-linecap="round"/>
<path d="M10.2 178 L13.6 173.9 L20.3 166.4 L27.1 161 L33.9 157.2 L40.7 155.9 L47.5 155.6 L54.9 153.3 L58.3 147.5 L61.7 141.8 L66.4 140 L80.7 138.6 L86.1 145.4 L88.1 146.8 L94.9 147.1 L131.5 147.1 L135.6 148.8 L141 154.2 L149.2 155.6 L156.8 157.5 L163.6 156.3 L170.3 152 L183.9 146.6 L199.2 131.5 L208.5 116.3 L215.3 113.7 L221.2 106.9 L228.8 99.3 L235.6 95.9 L241.5 94.2 L247.8 90 L255.9 83.7 L260.2 82.7 L266.9 82.7 L279.7 82.7 L285.6 88.3 L292 94.6 L304.6 94.6 L310.2 101.9 L313.6 112.9 L316.9 131.5 L319.5 144.4 L324.6 155.8 L334.7 156.6 L337.6 157.5 L343.2 163.1 L344.4 165.9 L346.9 176.9 L350.3 187.1 L357.1 199.8 L363.1 211.7 L365.6 236.3 L369.2 269.7 L376.3 279.3 L395.4 279.7 L400 287.8 L404.2 303.1 L408 320 L414.1 322.9 L421.2 310.2 L427.6 289.5 L434.4 285.3 L440.7 275.9 L447.5 270 L453.9 266.1 L460.3 264.4 L479.3 264.4 L485.6 273.1 L492.9 273.6 L498.5 274.6 L505.3 275.9 L511.5 282.7 L517.8 287.8 L524.2 296.3 L530.5 297.1 L536.9 303.1 L543.4 312.4 L555.6 312.9 L562.4 328.8 L567.5 337.3 L573.4 340.3 L581 338.1 L588.3 328.8 L601.4 328.5 L607.6 324.9 L614.4 321.5 L618.6 310.5 L625.4 296.9 L633.6 287.6 L642.4 285.9 L678 285.1 L691.5 280 L698 262.2 L704.2 262.2 L710.5 256.1 L717.5 255.6 L723.4 254.4 L727.1 253.9 L736.4 244.2 L749.2 243.7 L755.6 235.3 L761.9 234.9 L768.6 229.7 L774.6 229.3 L781.4 222.5 L787.6 219.5 L794.4 214.4 L800.5 213.7 L804.2 210.7 L807.3 211.5 L813.6 219.2 L826.3 219.5 L832.5 224.6 L839.3 225.1 L845.4 230.2 L852.5 231.9 L858.5 237.8 L865.3 243.7 L871.7 248 L876.9 259.3 L889.7 259.3 L896.4 264.9 L903.9 268.8 L910.3 278.5 L916.8 291.2 L923.2 301 L929.7 310.7 L936.1 312.9 L942.5 313.7 L946.4 321.4 L952.9 326.4 L961.7 324.2 L968 324.4" fill="none" stroke="#2196f3" stroke-width="1.15" stroke-linejoin="round" stroke-linecap="round"/>
<path d="M10 149h1v10h-1z M8 152h5v7h-5z M16 142h1v12h-1z M14 144h5v9h-5z M29 140h1v8h-1z M27 143h5v4h-5z M35 133h1v17h-1z M33 143h5v1h-5z M42 130h1v14h-1z M40 134h5v10h-5z M48 130h1v9h-1z M46 132h5v3h-5z M55 126h1v8h-1z M53 128h5v6h-5z M74 126h1v21h-1z M72 128h5v14h-5z M93 138h1v26h-1z M91 144h5v19h-5z M125 145h1v15h-1z M123 148h5v12h-5z M145 149h1v22h-1z M143 150h5v13h-5z M151 140h1v15h-1z M149 146h5v5h-5z M158 140h1v12h-1z M156 142h5v5h-5z M164 133h1v14h-1z M162 137h5v6h-5z M170 124h1v24h-1z M168 124h5v14h-5z M177 115h1v18h-1z M175 117h5v8h-5z M190 110h1v15h-1z M188 110h5v12h-5z M196 104h1v12h-1z M194 105h5v7h-5z M203 99h1v16h-1z M201 101h5v6h-5z M209 79h1v23h-1z M207 84h5v18h-5z M215 81h1v8h-1z M213 84h5v1h-5z M222 66h1v18h-1z M220 67h5v17h-5z M247 65h1v9h-1z M245 67h5v7h-5z M254 56h1v12h-1z M252 56h5v11h-5z M273 97h1v17h-1z M271 103h5v3h-5z M280 92h1v12h-1z M278 96h5v8h-5z M292 113h1v25h-1z M290 115h5v10h-5z M325 177h1v45h-1z M323 187h5v4h-5z M382 276h1v60h-1z M380 296h5v40h-5z M389 285h1v31h-1z M387 287h5v10h-5z M402 268h1v30h-1z M400 284h5v14h-5z M408 270h1v19h-1z M406 276h5v8h-5z M415 257h1v32h-1z M413 263h5v13h-5z M421 237h1v31h-1z M419 238h5v26h-5z M447 250h1v26h-1z M445 268h5v5h-5z M453 252h1v22h-1z M451 258h5v11h-5z M492 273h1v22h-1z M490 275h5v14h-5z M498 253h1v30h-1z M496 256h5v20h-5z M517 302h1v20h-1z M515 309h5v1h-5z M530 319h1v22h-1z M528 331h5v4h-5z M550 339h1v16h-1z M548 346h5v6h-5z M562 353h1v24h-1z M560 355h5v10h-5z M569 326h1v37h-1z M567 327h5v29h-5z M582 301h1v34h-1z M580 312h5v16h-5z M588 280h1v44h-1z M586 290h5v23h-5z M601 282h1v28h-1z M599 297h5v10h-5z M607 272h1v28h-1z M605 281h5v16h-5z M614 268h1v18h-1z M612 269h5v12h-5z M627 297h1v35h-1z M625 300h5v20h-5z M639 269h1v50h-1z M637 271h5v47h-5z M646 259h1v18h-1z M644 265h5v7h-5z M652 245h1v38h-1z M650 246h5v20h-5z M665 254h1v14h-1z M663 255h5v3h-5z M672 243h1v18h-1z M670 246h5v11h-5z M684 244h1v18h-1z M682 249h5v12h-5z M691 241h1v12h-1z M689 245h5v5h-5z M710 255h1v13h-1z M708 256h5v3h-5z M723 248h1v19h-1z M721 249h5v11h-5z M729 240h1v14h-1z M727 248h5v1h-5z M736 218h1v32h-1z M734 223h5v26h-5z M749 222h1v14h-1z M747 228h5v1h-5z M755 202h1v27h-1z M753 207h5v22h-5z M762 201h1v15h-1z M760 204h5v4h-5z M768 193h1v18h-1z M766 194h5v11h-5z M781 201h1v14h-1z M779 207h5v5h-5z M794 202h1v10h-1z M792 210h5v2h-5z M800 201h1v19h-1z M798 204h5v7h-5z M819 224h1v19h-1z M817 239h5v3h-5z M826 231h1v16h-1z M824 232h5v8h-5z M832 223h1v18h-1z M830 229h5v4h-5z M839 219h1v19h-1z M837 228h5v2h-5z M852 235h1v27h-1z M850 239h5v19h-5z M858 235h1v40h-1z M856 237h5v3h-5z M884 265h1v18h-1z M882 271h5v8h-5z M903 294h1v13h-1z M901 301h5v5h-5z M922 331h1v29h-1z M920 346h5v1h-5z M929 321h1v27h-1z M927 327h5v20h-5z M935 309h1v29h-1z M933 318h5v10h-5z M948 299h1v34h-1z M946 307h5v17h-5z M954 298h1v11h-1z M952 300h5v7h-5z M961 288h1v33h-1z M959 297h5v4h-5z" fill="#089981" shape-rendering="crispEdges"/>
<path d="M23 139h1v12h-1z M21 145h5v2h-5z M61 126h1v10h-1z M59 128h5v7h-5z M68 133h1v20h-1z M66 134h5v7h-5z M80 124h1v19h-1z M78 128h5v9h-5z M87 127h1v43h-1z M85 136h5v27h-5z M100 134h1v17h-1z M98 143h5v4h-5z M106 139h1v16h-1z M104 147h5v3h-5z M113 149h1v17h-1z M111 149h5v6h-5z M119 148h1v18h-1z M117 154h5v5h-5z M132 136h1v30h-1z M130 148h5v14h-5z M138 142h1v36h-1z M136 161h5v2h-5z M183 116h1v11h-1z M181 118h5v4h-5z M228 67h1v10h-1z M226 68h5v1h-5z M235 66h1v13h-1z M233 68h5v3h-5z M241 64h1v18h-1z M239 70h5v4h-5z M260 51h1v62h-1z M258 56h5v41h-5z M267 83h1v32h-1z M265 96h5v10h-5z M286 93h1v34h-1z M284 96h5v29h-5z M299 108h1v16h-1z M297 115h5v2h-5z M305 112h1v26h-1z M303 116h5v7h-5z M312 121h1v37h-1z M310 122h5v36h-5z M318 151h1v48h-1z M316 156h5v35h-5z M331 170h1v28h-1z M329 187h5v1h-5z M337 178h1v21h-1z M335 187h5v6h-5z M344 170h1v46h-1z M342 192h5v24h-5z M350 194h1v73h-1z M348 215h5v47h-5z M357 253h1v31h-1z M355 261h5v20h-5z M363 273h1v30h-1z M361 280h5v21h-5z M370 297h1v92h-1z M368 300h5v33h-5z M376 295h1v48h-1z M374 332h5v4h-5z M395 277h1v25h-1z M393 287h5v10h-5z M427 237h1v25h-1z M425 238h5v18h-5z M434 248h1v44h-1z M432 255h5v4h-5z M440 248h1v26h-1z M438 259h5v14h-5z M460 256h1v24h-1z M458 258h5v17h-5z M466 274h1v16h-1z M464 274h5v4h-5z M472 264h1v20h-1z M470 278h5v6h-5z M479 278h1v13h-1z M477 283h5v4h-5z M485 278h1v20h-1z M483 287h5v2h-5z M505 254h1v36h-1z M503 256h5v33h-5z M511 285h1v25h-1z M509 289h5v21h-5z M524 303h1v37h-1z M522 309h5v26h-5z M537 321h1v30h-1z M535 331h5v18h-5z M543 346h1v26h-1z M541 347h5v5h-5z M556 344h1v26h-1z M554 346h5v19h-5z M575 325h1v22h-1z M573 327h5v1h-5z M595 280h1v33h-1z M593 290h5v17h-5z M620 243h1v79h-1z M618 269h5v51h-5z M633 285h1v40h-1z M631 300h5v18h-5z M659 242h1v20h-1z M657 246h5v12h-5z M678 241h1v23h-1z M676 246h5v15h-5z M697 244h1v18h-1z M695 245h5v14h-5z M704 253h1v12h-1z M702 258h5v1h-5z M717 253h1v11h-1z M715 256h5v4h-5z M742 223h1v15h-1z M740 224h5v6h-5z M774 192h1v28h-1z M772 194h5v18h-5z M787 203h1v12h-1z M785 207h5v5h-5z M807 203h1v16h-1z M805 204h5v14h-5z M813 212h1v36h-1z M811 217h5v28h-5z M845 218h1v44h-1z M843 228h5v33h-5z M864 223h1v25h-1z M862 237h5v1h-5z M871 236h1v35h-1z M869 237h5v32h-5z M877 259h1v42h-1z M875 268h5v11h-5z M890 267h1v27h-1z M888 271h5v21h-5z M897 288h1v26h-1z M895 292h5v14h-5z M909 299h1v32h-1z M907 301h5v25h-5z M916 321h1v36h-1z M914 325h5v23h-5z M942 306h1v24h-1z M940 318h5v8h-5z M967 290h1v20h-1z M965 297h5v12h-5z" fill="#f23645" shape-rendering="crispEdges"/>
<path d="M11 309.5H1125" stroke="#f23645" stroke-width="1" stroke-dasharray="1 2" shape-rendering="crispEdges"/>
</g>
<g clip-path="url(#cr)">
<rect x="11" y="444" width="1114" height="50.5" fill="rgba(126,87,194,0.1)"/>
<path d="M10 444.5H1125" stroke="#787b86" stroke-width="1" stroke-dasharray="5 6" shape-rendering="crispEdges"/>
<path d="M10 469.5H1125" stroke="#787b86" stroke-width="1" stroke-dasharray="5 6" shape-rendering="crispEdges"/>
<path d="M10 494.5H1125" stroke="#787b86" stroke-width="1" stroke-dasharray="5 6" shape-rendering="crispEdges"/>
<path d="M10.5 451.3 L16.1 448.7 L22.5 450.1 L29.2 449.1 L35.6 448.7 L42 445.7 L48.3 445 L54.7 443.6 L61 448.4 L67.5 453.5 L73.9 447.9 L80.3 453.5 L86.8 469.4 L93.2 460.6 L99.7 462.6 L106.4 464 L112.7 466.5 L119.2 469.1 L125.4 463.6 L131.9 469.9 L138.1 471.6 L144.6 464.3 L151.2 461.9 L157.6 460.1 L164.1 458.1 L170.3 452.1 L176.8 449.6 L183.1 452.1 L189.5 447.9 L195.9 445.7 L202.7 444.5 L209.2 438.6 L215.6 438.2 L222 433.8 L228.5 434.7 L234.9 436.5 L241.4 439.4 L247.8 436.9 L253.9 433.5 L260.2 463.1 L266.9 467.4 L273.4 466.2 L279.7 463.1 L286.1 476.4 L292.5 471.6 L299 472.5 L305.4 475 L311.9 487.7 L318.6 495.8 L325.1 494.2 L331.4 494.2 L337.8 495.3 L344.2 500.9 L350.7 507.7 L357.1 510.3 L363.6 512.3 L370 514.8 L376.3 514.8 L382.7 497 L389.2 492.8 L395.6 494.5 L402.2 489.4 L408.5 486 L414.9 480.9 L420.7 473 L427.5 477 L433.9 478.4 L440.3 481.8 L446.6 480.1 L453.1 476.2 L459.5 480.6 L466.1 482.1 L472.5 483.5 L478.8 484.3 L485.3 484.8 L491.7 477.2 L498.1 469.9 L504.6 480.1 L511 486 L517.5 485.5 L523.7 491.4 L530.2 489.9 L536.6 493.6 L543.1 494.2 L549.5 491.9 L555.9 495.8 L562.4 491.1 L568.8 478.7 L575.3 478.9 L581.7 471.6 L588.1 464.5 L594.6 469.9 L601.5 466.2 L608 460.9 L614.4 457.7 L620.3 474.7 L626.8 468.7 L633.1 473.6 L639.8 460.9 L646.3 459.7 L652.5 455.8 L659.2 459.2 L665.6 458.6 L672 456.4 L678.3 461.1 L684.7 458.1 L691.2 457.2 L697.6 462.3 L704.1 462.3 L710.5 461.4 L716.9 463.1 L723.4 459.4 L729.8 459.2 L736.1 451.3 L742.5 453.5 L749 453.5 L755.4 447 L761.9 446.2 L768.3 443.6 L774.7 453.3 L781.2 451.8 L787.6 454.3 L794.1 453.8 L801 451.8 L807.1 459.7 L813.2 471.9 L819.5 469.9 L825.8 466.5 L832.2 465.3 L838.6 464.8 L844.7 478.9 L851.7 469.6 L858.1 468.7 L864.6 468.7 L871 480.6 L877.5 484 L883.6 480.1 L890 486.4 L896.4 489.9 L903.2 488.1 L909.7 494.2 L916.1 498.4 L922.4 498.2 L928.8 488.6 L935.3 483.8 L941.5 485.5 L948 477.2 L954.4 474.7 L960.8 473.6 L967.8 477.9" fill="none" stroke="#7e57c2" stroke-width="2" stroke-linejoin="round" stroke-linecap="round"/>
</g>
<text x="1134.1" y="400.2" fill="#131722" font-size="12" text-anchor="start" font-weight="normal" textLength="37" lengthAdjust="spacingAndGlyphs">154.00</text>
<text x="1134.1" y="368.1" fill="#131722" font-size="12" text-anchor="start" font-weight="normal" textLength="37" lengthAdjust="spacingAndGlyphs">156.00</text>
<text x="1134.1" y="175.3" fill="#131722" font-size="12" text-anchor="start" font-weight="normal" textLength="37" lengthAdjust="spacingAndGlyphs">168.00</text>
<text x="1134.1" y="143.1" fill="#131722" font-size="12" text-anchor="start" font-weight="normal" textLength="37" lengthAdjust="spacingAndGlyphs">170.00</text>
<text x="1134.1" y="111" fill="#131722" font-size="12" text-anchor="start" font-weight="normal" textLength="37" lengthAdjust="spacingAndGlyphs">172.00</text>
<text x="1134.1" y="78.8" fill="#131722" font-size="12" text-anchor="start" font-weight="normal" textLength="37" lengthAdjust="spacingAndGlyphs">174.00</text>
<text x="1134.1" y="46.7" fill="#131722" font-size="12" text-anchor="start" font-weight="normal" textLength="37" lengthAdjust="spacingAndGlyphs">176.00</text>
<text x="1133.6" y="441.8" fill="#131722" font-size="12" text-anchor="start" font-weight="normal" textLength="31" lengthAdjust="spacingAndGlyphs">75.00</text>
<text x="1133.6" y="504.7" fill="#131722" font-size="12" text-anchor="start" font-weight="normal" textLength="31" lengthAdjust="spacingAndGlyphs">25.00</text>
<rect x="1125" y="175" width="52" height="19" fill="#26c6da"/>
<text x="1134.1" y="188.9" fill="#131722" font-size="12" text-anchor="start" font-weight="normal" textLength="37" lengthAdjust="spacingAndGlyphs">164.70</text>
<rect x="1125" y="194" width="52" height="17" fill="#ff6d00"/>
<text x="1134.1" y="206.9" fill="#fff" font-size="12" text-anchor="start" font-weight="normal" textLength="37" lengthAdjust="spacingAndGlyphs" stroke="#fff" stroke-width="0.3">162.57</text>
<rect x="1125" y="211" width="52" height="19" fill="#2196f3"/>
<text x="1134.1" y="224.9" fill="#fff" font-size="12" text-anchor="start" font-weight="normal" textLength="37" lengthAdjust="spacingAndGlyphs" stroke="#fff" stroke-width="0.3">161.56</text>
<rect x="1125" y="230" width="52" height="18" fill="#faa1a4"/>
<text x="1134.1" y="243.4" fill="#131722" font-size="12" text-anchor="start" font-weight="normal" textLength="37" lengthAdjust="spacingAndGlyphs">161.44</text>
<rect x="1125" y="248" width="52" height="16" fill="#801922"/>
<text x="1134.1" y="260.4" fill="#fff" font-size="12" text-anchor="start" font-weight="normal" textLength="37" lengthAdjust="spacingAndGlyphs" stroke="#fff" stroke-width="0.3">161.09</text>
<rect x="1125" y="264" width="52" height="18" fill="#a5d6a7"/>
<text x="1134.1" y="277.4" fill="#131722" font-size="12" text-anchor="start" font-weight="normal" textLength="37" lengthAdjust="spacingAndGlyphs">159.77</text>
<rect x="1125" y="282" width="52" height="19" fill="#f23645"/>
<text x="1134.1" y="295.9" fill="#fff" font-size="12" text-anchor="start" font-weight="normal" textLength="37" lengthAdjust="spacingAndGlyphs" stroke="#fff" stroke-width="0.3">159.38</text>
<rect x="1125" y="301" width="52" height="18" fill="#43a047"/>
<text x="1134.1" y="314.4" fill="#fff" font-size="12" text-anchor="start" font-weight="normal" textLength="37" lengthAdjust="spacingAndGlyphs" stroke="#fff" stroke-width="0.3">159.38</text>
<rect x="1125" y="319" width="52" height="18" fill="#2196f3"/>
<text x="1134.1" y="332.4" fill="#fff" font-size="12" text-anchor="start" font-weight="normal" textLength="37" lengthAdjust="spacingAndGlyphs" stroke="#fff" stroke-width="0.3">158.44</text>
<path d="M1125 469h44a2 2 0 0 1 2 2v15a2 2 0 0 1 -2 2h-44z" fill="#7e57c2"/>
<text x="1134.2" y="482.9" fill="#fff" font-size="12" text-anchor="start" font-weight="normal" textLength="30.8" lengthAdjust="spacingAndGlyphs" stroke="#fff" stroke-width="0.3">42.72</text>
<text x="80.5" y="543" fill="#131722" font-size="12" text-anchor="middle" font-weight="normal" >Jun</text>
<text x="209.5" y="543" fill="#131722" font-size="12" text-anchor="middle" font-weight="normal" >Jul</text>
<text x="357.5" y="543" fill="#131722" font-size="12" text-anchor="middle" font-weight="normal" >Aug</text>
<text x="498.5" y="543" fill="#131722" font-size="12" text-anchor="middle" font-weight="normal" >Sep</text>
<text x="633.5" y="543" fill="#131722" font-size="12" text-anchor="middle" font-weight="normal" >Oct</text>
<text x="781.5" y="543" fill="#131722" font-size="12" text-anchor="middle" font-weight="normal" >Nov</text>
<text x="916.5" y="543" fill="#131722" font-size="12" text-anchor="middle" font-weight="normal" >Dec</text>
<text x="1006.5" y="543" fill="#131722" font-size="12" text-anchor="middle" font-weight="normal" >18</text>
<text x="1082.1" y="543" fill="#131722" font-size="12.5" text-anchor="start" font-weight="normal" textLength="28.8" lengthAdjust="spacingAndGlyphs" stroke="#131722" stroke-width="0.45">2025</text>
<text x="18.4" y="29.6" fill="#131722" font-size="12" text-anchor="start" font-weight="normal" textLength="69" lengthAdjust="spacingAndGlyphs">EUR/JPY, 1D</text>
<text x="95.6" y="29.6" fill="#131722" font-size="12" text-anchor="start" font-weight="normal" textLength="8.8" lengthAdjust="spacingAndGlyphs">O</text>
<text x="105.4" y="29.6" fill="#f23645" font-size="12" text-anchor="start" font-weight="normal" textLength="34.7" lengthAdjust="spacingAndGlyphs">160.11</text>
<text x="150.2" y="29.6" fill="#131722" font-size="12" text-anchor="start" font-weight="normal" textLength="7.6" lengthAdjust="spacingAndGlyphs">H</text>
<text x="158.8" y="29.6" fill="#f23645" font-size="12" text-anchor="start" font-weight="normal" textLength="35.9" lengthAdjust="spacingAndGlyphs">160.55</text>
<text x="203.2" y="29.6" fill="#131722" font-size="12" text-anchor="start" font-weight="normal" textLength="5.8" lengthAdjust="spacingAndGlyphs">L</text>
<text x="209" y="29.6" fill="#f23645" font-size="12" text-anchor="start" font-weight="normal" textLength="37.3" lengthAdjust="spacingAndGlyphs">159.29</text>
<text x="255" y="29.6" fill="#131722" font-size="12" text-anchor="start" font-weight="normal" textLength="7.2" lengthAdjust="spacingAndGlyphs">C</text>
<text x="262.7" y="29.6" fill="#f23645" font-size="12" text-anchor="start" font-weight="normal" textLength="37.3" lengthAdjust="spacingAndGlyphs">159.38</text>
<text x="307.8" y="29.6" fill="#f23645" font-size="12" text-anchor="start" font-weight="normal" textLength="30.2" lengthAdjust="spacingAndGlyphs">−0.73</text>
<text x="343.3" y="29.6" fill="#f23645" font-size="12" text-anchor="start" font-weight="normal" textLength="46.2" lengthAdjust="spacingAndGlyphs">(−0.46%)</text>
<text x="18.4" y="47.6" fill="#131722" font-size="12" text-anchor="start" font-weight="normal" textLength="251" lengthAdjust="spacingAndGlyphs">Moving Average Triple (50, 100, 200, Simple)</text>
<text x="278" y="47.6" fill="#ff6d00" font-size="12" text-anchor="start" font-weight="normal" textLength="37" lengthAdjust="spacingAndGlyphs">162.57</text>
<text x="323.5" y="47.6" fill="#2196f3" font-size="12" text-anchor="start" font-weight="normal" textLength="36" lengthAdjust="spacingAndGlyphs">161.56</text>
<text x="368.6" y="47.6" fill="#26c6da" font-size="12" text-anchor="start" font-weight="normal" textLength="36.9" lengthAdjust="spacingAndGlyphs">164.70</text>
<text x="18.4" y="65.7" fill="#131722" font-size="12" text-anchor="start" font-weight="normal" textLength="156.2" lengthAdjust="spacingAndGlyphs">Ichimoku (9, 26, 52, 26, 26)</text>
<text x="183" y="65.7" fill="#2196f3" font-size="12" text-anchor="start" font-weight="normal" textLength="37.3" lengthAdjust="spacingAndGlyphs">158.44</text>
<text x="229.2" y="65.7" fill="#801922" font-size="12" text-anchor="start" font-weight="normal" textLength="36.6" lengthAdjust="spacingAndGlyphs">161.09</text>
<text x="273.8" y="65.7" fill="#43a047" font-size="12" text-anchor="start" font-weight="normal" textLength="36.6" lengthAdjust="spacingAndGlyphs">159.38</text>
<text x="319.3" y="65.7" fill="#a5d6a7" font-size="12" text-anchor="start" font-weight="normal" textLength="36.7" lengthAdjust="spacingAndGlyphs">159.77</text>
<text x="364.4" y="65.7" fill="#faa1a4" font-size="12" text-anchor="start" font-weight="normal" textLength="36.3" lengthAdjust="spacingAndGlyphs">161.44</text>
<text x="18.4" y="443.7" fill="#131722" font-size="12" text-anchor="start" font-weight="normal" textLength="42" lengthAdjust="spacingAndGlyphs">RSI (14)</text>
<text x="70" y="443.7" fill="#7e57c2" font-size="12" text-anchor="start" font-weight="normal" textLength="29.5" lengthAdjust="spacingAndGlyphs">42.72</text>
<g transform="translate(10.1,563.8) scale(0.573)" fill="#131722"><path d="M14 22H7V11H0V4h14v18zM28 22h-8l7.5-18h8L28 22z"/><circle cx="20" cy="8" r="4"/></g>
<text x="34.6" y="576.5" fill="#1e222d" font-size="14.4" text-anchor="start" font-weight="normal" textLength="74" lengthAdjust="spacingAndGlyphs">TradingView</text>
</svg>
</body></html>
